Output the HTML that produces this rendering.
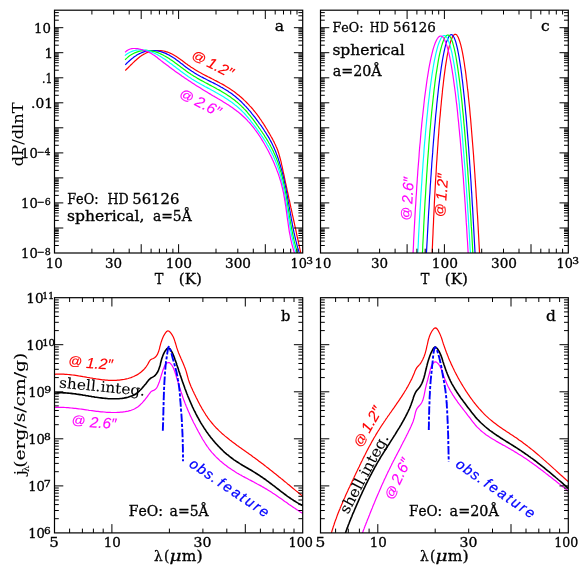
<!DOCTYPE html>
<html><head><meta charset="utf-8"><title>FeO emission</title>
<style>
html,body{margin:0;padding:0;background:#fff}
svg{display:block;will-change:transform}
.tk{stroke:#000;stroke-width:1;fill:none}
.fr{stroke:#000;stroke-width:1.2;fill:none}
text{font-kerning:none}
</style></head><body>
<svg width="581" height="581" viewBox="0 0 581 581">
<rect width="581" height="581" fill="#fff"/>
<defs>
<clipPath id="clipa"><rect x="54.5" y="10.2" width="248.2" height="242.8"/></clipPath>
<clipPath id="clipc"><rect x="320.5" y="10.2" width="247.8" height="242.8"/></clipPath>
<clipPath id="clipb"><rect x="54.5" y="297.7" width="248.2" height="235.2"/></clipPath>
<clipPath id="clipd"><rect x="320.5" y="297.7" width="247.8" height="235.2"/></clipPath>
</defs>
<path d="M125.2 70.5L126.3 69.5L127.3 68.5L128.4 67.5L129.4 66.4L130.5 65.3L131.6 64.3L132.7 63.2L133.8 62.1L134.9 61L136.1 60L137.2 59L138.4 58L139.6 57L140.9 56.1L142.1 55.2L143.4 54.4L144.8 53.7L146.1 53L147.5 52.4L148.9 51.9L150.4 51.5L151.8 51.1L153.3 50.9L154.8 50.7L156.3 50.5L157.8 50.5L159.3 50.5L160.7 50.6L162.2 50.8L163.7 51L165.1 51.4L166.5 51.8L167.9 52.2L169.3 52.8L170.6 53.4L172 54L173.3 54.7L174.6 55.5L175.9 56.2L177.1 57.1L178.4 57.9L179.6 58.8L180.9 59.7L182.1 60.6L183.3 61.5L184.6 62.5L185.8 63.4L187.1 64.3L188.3 65.2L189.6 66.1L190.8 67L192.1 67.8L193.4 68.6L194.7 69.4L196 70.2L197.3 71L198.6 71.8L200 72.5L201.3 73.2L202.6 74L204 74.7L205.3 75.4L206.7 76.1L208 76.8L209.3 77.4L210.7 78.1L212 78.8L213.4 79.5L214.7 80.2L216.1 80.9L217.4 81.6L218.7 82.3L220 83L221.4 83.7L222.7 84.4L224 85.1L225.3 85.9L226.6 86.7L227.8 87.4L229.1 88.2L230.3 89.1L231.6 89.9L232.8 90.8L234 91.6L235.2 92.5L236.4 93.5L237.6 94.4L238.8 95.3L239.9 96.3L241.1 97.3L242.2 98.3L243.3 99.3L244.4 100.4L245.5 101.4L246.6 102.5L247.7 103.6L248.7 104.7L249.7 105.8L250.8 106.9L251.8 108L252.8 109.2L253.7 110.3L254.7 111.5L255.6 112.7L256.6 113.9L257.5 115.1L258.4 116.3L259.3 117.6L260.1 118.8L261 120L261.8 121.3L262.7 122.6L263.5 123.8L264.3 125.1L265.1 126.4L265.9 127.7L266.7 129L267.5 130.3L268.2 131.6L269 132.9L269.8 134.2L270.5 135.5L271.2 136.8L272 138.1L272.7 139.4L273.4 140.8L274.1 142.1L274.7 143.4L275.4 144.8L276 146.2L276.6 147.5L277.2 148.9L277.7 150.3L278.2 151.7L278.7 153.2L279.1 154.6L279.5 156L279.9 157.5L280.3 159L280.7 160.4L281.1 161.9L281.4 163.4L281.7 164.9L282.1 166.3L282.4 167.8L282.7 169.3L283 170.8L283.3 172.3L283.7 173.8L284 175.2L284.3 176.7L284.6 178.2L284.9 179.7L285.2 181.2L285.5 182.6L285.9 184.1L286.2 185.6L286.5 187.1L286.8 188.5L287.1 190L287.4 191.5L287.8 193L288.1 194.4L288.4 195.9L288.7 197.4L289 198.9L289.4 200.3L289.7 201.8L290 203.3L290.3 204.8L290.6 206.2L290.9 207.7L291.3 209.2L291.6 210.7L291.9 212.2L292.2 213.6L292.5 215.1L292.9 216.6L293.2 218.1L293.5 219.5L293.8 221L294.2 222.5L294.5 224L294.8 225.5L295.1 226.9L295.4 228.4L295.8 229.9L296.1 231.4L296.4 232.8L296.7 234.3L297 235.8L297.4 237.3L297.7 238.8L298 240.2L298.3 241.7L298.6 243.2L299 244.7L299.3 246.1L299.6 247.6L299.9 249.1L300.2 250.6L300.6 252L300.9 253.5L301.2 255" fill="none" stroke="#ff0000" stroke-width="1.2" stroke-linejoin="round" clip-path="url(#clipa)"/>
<path d="M125.3 64.9L126.2 63.8L127.3 62.8L128.4 61.7L129.5 60.7L130.6 59.7L131.8 58.7L133.1 57.8L134.3 56.8L135.6 56L136.9 55.1L138.3 54.3L139.6 53.6L141 53L142.4 52.4L143.8 51.9L145.3 51.4L146.7 51.1L148.2 50.8L149.7 50.6L151.2 50.5L152.6 50.5L154.1 50.6L155.6 50.7L157.1 50.9L158.6 51.2L160 51.5L161.5 51.9L162.9 52.4L164.3 52.9L165.7 53.4L167.1 54.1L168.4 54.7L169.7 55.4L171 56.2L172.3 57L173.5 57.8L174.8 58.6L176 59.5L177.3 60.4L178.5 61.3L179.7 62.2L180.9 63.2L182.1 64.1L183.3 65L184.5 66L185.7 66.9L186.9 67.8L188.2 68.7L189.4 69.6L190.7 70.5L191.9 71.3L193.2 72.1L194.5 72.9L195.8 73.7L197.1 74.5L198.4 75.2L199.8 76L201.1 76.7L202.5 77.4L203.8 78.1L205.2 78.8L206.5 79.5L207.9 80.2L209.2 80.9L210.6 81.6L212 82.3L213.3 82.9L214.7 83.6L216 84.3L217.4 85L218.7 85.7L220 86.4L221.3 87.2L222.7 87.9L224 88.7L225.2 89.4L226.5 90.2L227.8 91L229 91.9L230.3 92.7L231.5 93.6L232.7 94.5L233.9 95.4L235 96.3L236.2 97.3L237.3 98.3L238.5 99.2L239.6 100.3L240.7 101.3L241.8 102.3L242.8 103.4L243.9 104.5L244.9 105.6L246 106.7L247 107.8L248 108.9L249 110.1L250 111.2L251 112.4L251.9 113.6L252.9 114.8L253.8 116L254.8 117.2L255.7 118.4L256.6 119.6L257.5 120.8L258.4 122L259.3 123.3L260.2 124.5L261.1 125.7L262 127L262.8 128.2L263.7 129.5L264.5 130.8L265.3 132L266.1 133.3L266.9 134.6L267.7 135.8L268.5 137.1L269.3 138.4L270 139.8L270.7 141.1L271.4 142.4L272.1 143.8L272.7 145.1L273.4 146.5L274 147.8L274.6 149.2L275.2 150.6L275.8 152L276.3 153.4L276.8 154.8L277.4 156.3L277.9 157.7L278.4 159.1L278.8 160.5L279.3 162L279.7 163.4L280.2 164.9L280.6 166.3L281 167.8L281.4 169.2L281.8 170.7L282.2 172.1L282.6 173.6L282.9 175L283.3 176.5L283.6 178L284 179.5L284.3 180.9L284.6 182.4L284.9 183.9L285.3 185.4L285.6 186.8L285.9 188.3L286.2 189.8L286.4 191.3L286.7 192.8L287 194.3L287.3 195.8L287.5 197.3L287.8 198.8L288.1 200.2L288.3 201.7L288.6 203.2L288.9 204.7L289.1 206.2L289.4 207.7L289.7 209.2L289.9 210.7L290.2 212.2L290.4 213.7L290.7 215.2L291 216.7L291.2 218.2L291.5 219.7L291.8 221.2L292.1 222.6L292.3 224.1L292.6 225.6L292.9 227.1L293.2 228.6L293.5 230.1L293.8 231.6L294.1 233L294.5 234.5L294.8 236L295.1 237.5L295.5 238.9L295.8 240.4L296.2 241.9L296.6 243.3L296.9 244.8L297.3 246.3L297.7 247.7L298.2 249.2L298.6 250.6L299 252.1L299.5 253.5L299.9 255" fill="none" stroke="#0000ff" stroke-width="1.2" stroke-linejoin="round" clip-path="url(#clipa)"/>
<path d="M125.1 59.8L126.2 58.6L127.4 57.6L128.6 56.5L129.9 55.6L131.2 54.8L132.5 54L133.9 53.3L135.3 52.6L136.7 52.1L138.1 51.6L139.6 51.2L141.1 50.9L142.5 50.6L144 50.5L145.5 50.4L146.9 50.4L148.4 50.5L149.9 50.6L151.3 50.9L152.7 51.2L154.2 51.5L155.6 51.9L157 52.4L158.4 52.9L159.8 53.5L161.1 54.1L162.5 54.8L163.8 55.5L165.2 56.2L166.5 57L167.8 57.8L169.1 58.6L170.3 59.4L171.6 60.2L172.8 61.1L174.1 62L175.3 62.9L176.5 63.8L177.7 64.7L178.9 65.6L180.2 66.5L181.4 67.4L182.6 68.3L183.8 69.2L185 70.1L186.2 71L187.5 71.9L188.7 72.8L189.9 73.6L191.2 74.5L192.5 75.3L193.7 76.1L195 76.8L196.3 77.6L197.6 78.4L198.9 79.1L200.2 79.9L201.6 80.6L202.9 81.3L204.2 82L205.5 82.7L206.9 83.4L208.2 84.1L209.5 84.9L210.9 85.6L212.2 86.3L213.6 87L214.9 87.7L216.2 88.4L217.5 89.2L218.9 89.9L220.2 90.6L221.5 91.4L222.8 92.2L224.1 93L225.4 93.8L226.6 94.6L227.9 95.4L229.2 96.3L230.4 97.1L231.6 98L232.9 98.9L234.1 99.8L235.3 100.7L236.4 101.7L237.6 102.6L238.7 103.6L239.8 104.6L240.9 105.6L242 106.7L243.1 107.7L244.1 108.8L245.2 109.9L246.2 111L247.2 112.2L248.1 113.3L249.1 114.5L250.1 115.6L251 116.8L251.9 118L252.9 119.2L253.8 120.4L254.7 121.6L255.6 122.8L256.5 124.1L257.3 125.3L258.2 126.5L259.1 127.8L260 129L260.8 130.3L261.7 131.5L262.5 132.8L263.4 134L264.2 135.3L265 136.6L265.8 137.8L266.6 139.1L267.4 140.4L268.2 141.7L268.9 143L269.7 144.3L270.4 145.6L271.1 147L271.8 148.3L272.5 149.7L273.2 151L273.8 152.4L274.4 153.7L275 155.1L275.6 156.5L276.2 157.9L276.7 159.3L277.3 160.7L277.8 162.1L278.3 163.6L278.8 165L279.2 166.4L279.7 167.8L280.1 169.3L280.5 170.7L281 172.2L281.4 173.6L281.7 175.1L282.1 176.5L282.5 178L282.8 179.4L283.2 180.9L283.5 182.4L283.8 183.9L284.1 185.3L284.4 186.8L284.7 188.3L285 189.8L285.3 191.3L285.6 192.7L285.9 194.2L286.1 195.7L286.4 197.2L286.6 198.7L286.9 200.2L287.2 201.7L287.4 203.2L287.6 204.7L287.9 206.2L288.1 207.7L288.4 209.2L288.6 210.7L288.8 212.2L289.1 213.7L289.3 215.2L289.6 216.7L289.8 218.2L290.1 219.7L290.3 221.2L290.6 222.7L290.8 224.2L291.1 225.7L291.4 227.1L291.6 228.6L291.9 230.1L292.2 231.6L292.5 233.1L292.8 234.6L293.1 236L293.4 237.5L293.8 239L294.1 240.5L294.4 241.9L294.8 243.4L295.2 244.8L295.6 246.3L295.9 247.8L296.4 249.2L296.8 250.6L297.2 252.1L297.7 253.5L298.1 255" fill="none" stroke="#00ff00" stroke-width="1.2" stroke-linejoin="round" clip-path="url(#clipa)"/>
<path d="M124.9 55.6L126.3 54.5L127.7 53.6L129.1 52.8L130.5 52L132 51.4L133.4 50.9L134.9 50.5L136.3 50.2L137.8 50L139.2 49.9L140.7 49.8L142.2 49.9L143.6 50L145 50.2L146.5 50.4L147.9 50.8L149.3 51.2L150.7 51.6L152.1 52.2L153.4 52.7L154.8 53.4L156.1 54L157.5 54.7L158.8 55.5L160.1 56.2L161.4 57.1L162.7 57.9L164 58.7L165.3 59.6L166.5 60.5L167.8 61.4L169 62.3L170.2 63.2L171.5 64.1L172.7 65L173.9 65.9L175.1 66.8L176.3 67.8L177.5 68.7L178.7 69.6L179.9 70.5L181.1 71.4L182.3 72.3L183.5 73.2L184.7 74.1L186 75L187.2 75.8L188.4 76.7L189.7 77.5L190.9 78.3L192.2 79.2L193.5 79.9L194.8 80.7L196.1 81.5L197.4 82.3L198.7 83L200 83.8L201.3 84.5L202.7 85.2L204 85.9L205.3 86.7L206.7 87.4L208 88.1L209.3 88.8L210.7 89.6L212 90.3L213.4 91L214.7 91.7L216 92.5L217.3 93.2L218.7 94L220 94.7L221.3 95.5L222.6 96.3L223.9 97.1L225.2 97.9L226.5 98.7L227.7 99.5L229 100.4L230.2 101.2L231.4 102.1L232.7 103L233.9 103.9L235 104.9L236.2 105.8L237.4 106.8L238.5 107.7L239.6 108.7L240.7 109.8L241.8 110.8L242.8 111.9L243.9 112.9L244.9 114L245.9 115.1L246.9 116.3L247.8 117.4L248.8 118.6L249.8 119.7L250.7 120.9L251.6 122.1L252.6 123.3L253.5 124.5L254.4 125.7L255.3 126.9L256.2 128.1L257.1 129.4L258 130.6L258.9 131.8L259.8 133.1L260.7 134.3L261.5 135.6L262.4 136.9L263.2 138.1L264 139.4L264.9 140.7L265.7 142L266.5 143.3L267.2 144.6L268 145.9L268.8 147.2L269.5 148.6L270.2 149.9L270.9 151.2L271.6 152.6L272.3 153.9L273 155.3L273.6 156.6L274.2 158L274.8 159.4L275.4 160.8L276 162.2L276.5 163.6L277.1 165L277.6 166.4L278.1 167.8L278.6 169.2L279 170.6L279.5 172.1L279.9 173.5L280.3 175L280.7 176.4L281.1 177.9L281.5 179.3L281.9 180.8L282.2 182.2L282.5 183.7L282.9 185.2L283.2 186.7L283.5 188.1L283.8 189.6L284.1 191.1L284.4 192.6L284.7 194.1L285 195.6L285.2 197.1L285.5 198.6L285.7 200.1L286 201.6L286.2 203.1L286.5 204.6L286.7 206.1L287 207.6L287.2 209.1L287.4 210.6L287.7 212.1L287.9 213.6L288.2 215.1L288.4 216.6L288.6 218.1L288.9 219.6L289.1 221.1L289.4 222.6L289.6 224.1L289.9 225.6L290.1 227.1L290.4 228.6L290.7 230.1L291 231.6L291.2 233.1L291.5 234.6L291.8 236L292.2 237.5L292.5 239L292.8 240.5L293.1 241.9L293.5 243.4L293.9 244.9L294.2 246.3L294.6 247.8L295 249.2L295.5 250.7L295.9 252.1L296.3 253.5L296.8 255" fill="none" stroke="#00ffff" stroke-width="1.2" stroke-linejoin="round" clip-path="url(#clipa)"/>
<path d="M125.1 52.2L126.4 51.1L127.6 50.2L129 49.5L130.3 49L131.8 48.6L133.2 48.5L134.7 48.5L136.2 48.6L137.7 48.7L139.2 49L140.7 49.4L142.2 49.7L143.6 50.2L145.1 50.7L146.5 51.2L148 51.8L149.3 52.4L150.7 53.1L152 53.9L153.2 54.7L154.5 55.5L155.7 56.4L156.9 57.3L158 58.3L159.2 59.2L160.4 60.1L161.6 61.1L162.8 62L164 62.9L165.2 63.8L166.4 64.7L167.6 65.6L168.8 66.5L170 67.4L171.2 68.3L172.4 69.2L173.6 70.1L174.8 71L176.1 71.9L177.3 72.7L178.5 73.6L179.8 74.5L181 75.3L182.2 76.2L183.5 77.1L184.7 77.9L186 78.8L187.2 79.6L188.5 80.4L189.8 81.3L191 82.1L192.3 82.9L193.6 83.8L194.8 84.6L196.1 85.4L197.4 86.2L198.7 87L200 87.8L201.2 88.6L202.5 89.4L203.8 90.2L205.1 91L206.4 91.8L207.7 92.6L209 93.4L210.3 94.1L211.6 94.9L212.9 95.7L214.3 96.4L215.6 97.2L216.9 98L218.2 98.8L219.5 99.5L220.8 100.3L222.1 101.1L223.4 101.9L224.7 102.7L226 103.5L227.2 104.3L228.5 105.1L229.8 105.9L231 106.8L232.2 107.6L233.5 108.5L234.7 109.4L235.9 110.3L237.1 111.2L238.3 112.1L239.4 113L240.6 114L241.7 115L242.8 116L243.9 117L245 118L246.1 119.1L247.1 120.2L248.1 121.3L249.2 122.4L250.2 123.5L251.1 124.7L252.1 125.9L253.1 127L254 128.2L254.9 129.5L255.8 130.7L256.7 131.9L257.6 133.2L258.5 134.4L259.3 135.7L260.2 137L261 138.3L261.8 139.6L262.6 140.9L263.4 142.2L264.2 143.5L264.9 144.8L265.7 146.2L266.4 147.5L267.1 148.8L267.9 150.2L268.6 151.5L269.3 152.9L269.9 154.2L270.6 155.6L271.3 157L271.9 158.3L272.5 159.7L273.2 161.1L273.8 162.4L274.4 163.8L274.9 165.2L275.5 166.6L276.1 168L276.6 169.4L277.1 170.8L277.7 172.2L278.2 173.6L278.7 175L279.1 176.4L279.6 177.9L280 179.3L280.5 180.7L280.9 182.2L281.3 183.6L281.7 185.1L282 186.5L282.4 188L282.7 189.4L283 190.9L283.4 192.4L283.7 193.9L283.9 195.4L284.2 196.9L284.5 198.3L284.7 199.8L285 201.3L285.2 202.8L285.4 204.4L285.7 205.9L285.9 207.4L286.1 208.9L286.3 210.4L286.5 211.9L286.7 213.4L286.9 214.9L287.1 216.5L287.3 218L287.5 219.5L287.8 221L288 222.5L288.2 224L288.4 225.5L288.6 227L288.9 228.6L289.1 230.1L289.3 231.6L289.6 233.1L289.9 234.5L290.2 236L290.4 237.5L290.7 239L291.1 240.5L291.4 242L291.7 243.4L292.1 244.9L292.5 246.3L292.9 247.8L293.3 249.2L293.7 250.7L294.2 252.1L294.6 253.5L295.1 254.9" fill="none" stroke="#ff00ff" stroke-width="1.2" stroke-linejoin="round" clip-path="url(#clipa)"/>
<path d="M432 256L432.2 252.3L432.3 248.6L432.5 244.9L432.6 241.2L432.8 237.5L433 233.8L433.1 230.1L433.3 226.3L433.5 222.6L433.6 218.9L433.8 215.2L434 211.5L434.2 207.8L434.3 204.1L434.5 200.4L434.7 196.7L434.9 193L435.1 189.3L435.3 185.6L435.5 181.9L435.7 178.2L436 174.5L436.2 170.7L436.4 167L436.6 163.3L436.9 159.6L437.1 155.9L437.4 152.2L437.6 148.5L437.9 144.8L438.1 141.1L438.4 137.4L438.7 133.7L438.9 130L439.2 126.3L439.5 122.6L439.8 118.8L440.2 115.1L440.5 111.4L440.8 107.7L441.2 104L441.5 100.3L441.9 96.6L442.3 92.9L442.6 89.2L443.1 85.5L443.5 81.8L443.9 78.1L444.4 74.4L444.9 70.7L445.4 67L446 63.2L446.6 59.5L447.2 55.8L448 52.1L448.8 48.4L449.7 44.7L450.8 41L452.3 37.3L452.5 36.8L452.8 36.3L453.1 35.9L453.4 35.5L453.6 35.2L453.9 34.9L454.2 34.7L454.5 34.5L454.7 34.4L455 34.3L455.3 34.3L455.6 34.3L455.8 34.4L456.1 34.5L456.4 34.7L456.6 34.9L456.9 35.2L457.1 35.5L457.4 35.9L457.7 36.3L457.9 36.8L458.2 37.3L459.6 41L460.7 44.7L461.6 48.4L462.4 52.1L463.1 55.8L463.7 59.5L464.3 63.2L464.8 67L465.4 70.7L465.9 74.4L466.3 78.1L466.8 81.8L467.2 85.5L467.6 89.2L468.1 92.9L468.4 96.6L468.8 100.3L469.2 104L469.6 107.7L469.9 111.4L470.2 115.1L470.6 118.8L470.9 122.6L471.2 126.3L471.5 130L471.8 133.7L472.1 137.4L472.4 141.1L472.7 144.8L473 148.5L473.3 152.2L473.6 155.9L473.8 159.6L474.1 163.3L474.4 167L474.6 170.7L474.9 174.5L475.1 178.2L475.4 181.9L475.6 185.6L475.9 189.3L476.1 193L476.3 196.7L476.6 200.4L476.8 204.1L477 207.8L477.2 211.5L477.5 215.2L477.7 218.9L477.9 222.6L478.1 226.3L478.3 230.1L478.5 233.8L478.7 237.5L478.9 241.2L479.1 244.9L479.3 248.6L479.5 252.3L479.7 256" fill="none" stroke="#ff0000" stroke-width="1.2" stroke-linejoin="round" clip-path="url(#clipc)"/>
<path d="M426.3 256L426.5 252.3L426.7 248.6L426.9 244.9L427.1 241.2L427.3 237.5L427.5 233.8L427.7 230.1L427.9 226.4L428.1 222.7L428.3 219L428.5 215.3L428.7 211.6L429 207.9L429.2 204.2L429.4 200.5L429.6 196.8L429.9 193.1L430.1 189.4L430.3 185.7L430.6 182L430.8 178.3L431.1 174.6L431.3 170.9L431.6 167.2L431.8 163.5L432.1 159.8L432.4 156.1L432.7 152.4L432.9 148.7L433.2 145L433.5 141.3L433.8 137.6L434.1 133.9L434.4 130.2L434.7 126.5L435.1 122.8L435.4 119.1L435.7 115.4L436.1 111.7L436.5 108L436.8 104.3L437.2 100.6L437.6 96.9L438 93.2L438.4 89.5L438.8 85.8L439.3 82.1L439.8 78.4L440.3 74.7L440.8 71L441.3 67.3L441.9 63.6L442.5 59.9L443.2 56.2L443.9 52.5L444.7 48.8L445.6 45.1L446.7 41.4L448.3 37.7L448.5 37.2L448.8 36.7L449.1 36.3L449.4 35.9L449.6 35.6L449.9 35.3L450.2 35.1L450.5 34.9L450.7 34.8L451 34.7L451.3 34.7L451.6 34.7L451.8 34.8L452.1 34.9L452.3 35.1L452.6 35.3L452.9 35.6L453.1 35.9L453.4 36.3L453.6 36.7L453.9 37.2L454.2 37.7L455.6 41.4L456.6 45.1L457.5 48.8L458.2 52.5L458.9 56.2L459.5 59.9L460.1 63.6L460.7 67.3L461.2 71L461.7 74.7L462.1 78.4L462.6 82.1L463 85.8L463.4 89.5L463.8 93.2L464.2 96.9L464.6 100.6L464.9 104.3L465.3 108L465.6 111.7L466 115.4L466.3 119.1L466.6 122.8L466.9 126.5L467.2 130.2L467.5 133.9L467.8 137.6L468.1 141.3L468.4 145L468.7 148.7L468.9 152.4L469.2 156.1L469.5 159.8L469.7 163.5L470 167.2L470.2 170.9L470.5 174.6L470.7 178.3L471 182L471.2 185.7L471.4 189.4L471.7 193.1L471.9 196.8L472.1 200.5L472.3 204.2L472.6 207.9L472.8 211.6L473 215.3L473.2 219L473.4 222.7L473.6 226.4L473.8 230.1L474 233.8L474.2 237.5L474.4 241.2L474.6 244.9L474.8 248.6L475 252.3L475.2 256" fill="none" stroke="#0000ff" stroke-width="1.2" stroke-linejoin="round" clip-path="url(#clipc)"/>
<path d="M422.3 256L422.5 252.3L422.7 248.6L422.8 244.9L423 241.2L423.2 237.5L423.4 233.8L423.6 230.1L423.7 226.4L423.9 222.7L424.1 219.1L424.3 215.4L424.5 211.7L424.7 208L424.9 204.3L425.1 200.6L425.4 196.9L425.6 193.2L425.8 189.5L426 185.8L426.3 182.1L426.5 178.4L426.7 174.7L427 171L427.2 167.3L427.5 163.6L427.7 159.9L428 156.2L428.3 152.5L428.6 148.8L428.8 145.2L429.1 141.5L429.4 137.8L429.7 134.1L430 130.4L430.4 126.7L430.7 123L431 119.3L431.4 115.6L431.7 111.9L432.1 108.2L432.5 104.5L432.9 100.8L433.3 97.1L433.7 93.4L434.1 89.7L434.6 86L435 82.3L435.5 78.6L436 74.9L436.6 71.3L437.2 67.6L437.8 63.9L438.4 60.2L439.1 56.5L439.9 52.8L440.8 49.1L441.8 45.4L443 41.7L444.6 38L444.9 37.5L445.2 37L445.5 36.6L445.8 36.2L446.1 35.9L446.4 35.6L446.7 35.4L447 35.2L447.3 35.1L447.6 35L447.9 35L448.2 35L448.4 35.1L448.7 35.2L449 35.4L449.3 35.6L449.5 35.9L449.8 36.2L450.1 36.6L450.3 37L450.6 37.5L450.9 38L452.4 41.7L453.4 45.4L454.4 49.1L455.2 52.8L455.9 56.5L456.5 60.2L457.1 63.9L457.7 67.6L458.2 71.3L458.7 74.9L459.2 78.6L459.7 82.3L460.1 86L460.6 89.7L461 93.4L461.4 97.1L461.8 100.8L462.2 104.5L462.5 108.2L462.9 111.9L463.3 115.6L463.6 119.3L463.9 123L464.3 126.7L464.6 130.4L464.9 134.1L465.2 137.8L465.5 141.5L465.8 145.2L466.1 148.8L466.4 152.5L466.7 156.2L466.9 159.9L467.2 163.6L467.5 167.3L467.8 171L468 174.7L468.3 178.4L468.5 182.1L468.8 185.8L469 189.5L469.3 193.2L469.5 196.9L469.8 200.6L470 204.3L470.2 208L470.4 211.7L470.7 215.4L470.9 219.1L471.1 222.7L471.3 226.4L471.6 230.1L471.8 233.8L472 237.5L472.2 241.2L472.4 244.9L472.6 248.6L472.8 252.3L473 256" fill="none" stroke="#00ff00" stroke-width="1.2" stroke-linejoin="round" clip-path="url(#clipc)"/>
<path d="M417.6 256L417.8 252.3L418 248.6L418.2 244.9L418.4 241.3L418.5 237.6L418.7 233.9L418.9 230.2L419.1 226.5L419.3 222.8L419.5 219.1L419.7 215.4L419.9 211.8L420.2 208.1L420.4 204.4L420.6 200.7L420.8 197L421 193.3L421.3 189.6L421.5 186L421.8 182.3L422 178.6L422.2 174.9L422.5 171.2L422.8 167.5L423 163.8L423.3 160.2L423.6 156.5L423.9 152.8L424.1 149.1L424.4 145.4L424.7 141.7L425.1 138L425.4 134.3L425.7 130.7L426 127L426.4 123.3L426.7 119.6L427.1 115.9L427.5 112.2L427.8 108.5L428.2 104.9L428.6 101.2L429.1 97.5L429.5 93.8L429.9 90.1L430.4 86.4L430.9 82.7L431.4 79.1L431.9 75.4L432.5 71.7L433.1 68L433.7 64.3L434.4 60.6L435.2 56.9L436 53.2L436.9 49.6L437.9 45.9L439.2 42.2L440.9 38.5L441.2 38L441.5 37.5L441.8 37.1L442.1 36.7L442.4 36.4L442.7 36.1L443 35.9L443.4 35.7L443.7 35.6L444 35.5L444.3 35.5L444.6 35.5L444.9 35.6L445.2 35.7L445.4 35.9L445.7 36.1L446 36.4L446.3 36.7L446.6 37.1L446.9 37.5L447.2 38L447.5 38.5L449 42.2L450.2 45.9L451.1 49.6L452 53.2L452.7 56.9L453.4 60.6L454.1 64.3L454.7 68L455.2 71.7L455.8 75.4L456.3 79.1L456.8 82.7L457.2 86.4L457.7 90.1L458.1 93.8L458.5 97.5L459 101.2L459.4 104.9L459.7 108.5L460.1 112.2L460.5 115.9L460.8 119.6L461.2 123.3L461.5 127L461.9 130.7L462.2 134.3L462.5 138L462.8 141.7L463.1 145.4L463.4 149.1L463.7 152.8L464 156.5L464.3 160.2L464.6 163.8L464.9 167.5L465.2 171.2L465.4 174.9L465.7 178.6L466 182.3L466.2 186L466.5 189.6L466.7 193.3L467 197L467.2 200.7L467.5 204.4L467.7 208.1L467.9 211.8L468.2 215.4L468.4 219.1L468.6 222.8L468.8 226.5L469.1 230.2L469.3 233.9L469.5 237.6L469.7 241.3L469.9 244.9L470.1 248.6L470.4 252.3L470.6 256" fill="none" stroke="#00ffff" stroke-width="1.2" stroke-linejoin="round" clip-path="url(#clipc)"/>
<path d="M412.9 256L413.1 252.3L413.3 248.6L413.5 245L413.6 241.3L413.8 237.6L414 233.9L414.2 230.3L414.4 226.6L414.6 222.9L414.8 219.2L415 215.5L415.2 211.9L415.4 208.2L415.7 204.5L415.9 200.8L416.1 197.2L416.4 193.5L416.6 189.8L416.8 186.1L417.1 182.4L417.3 178.8L417.6 175.1L417.8 171.4L418.1 167.7L418.4 164.1L418.7 160.4L419 156.7L419.2 153L419.5 149.3L419.8 145.7L420.2 142L420.5 138.3L420.8 134.6L421.1 130.9L421.5 127.3L421.8 123.6L422.2 119.9L422.6 116.2L423 112.6L423.4 108.9L423.8 105.2L424.2 101.5L424.6 97.8L425.1 94.2L425.6 90.5L426.1 86.8L426.6 83.1L427.1 79.5L427.7 75.8L428.3 72.1L428.9 68.4L429.6 64.7L430.3 61.1L431.1 57.4L432 53.7L432.9 50L434 46.4L435.3 42.7L437.1 39L437.5 38.5L437.8 38L438.1 37.6L438.5 37.2L438.8 36.9L439.1 36.6L439.5 36.4L439.8 36.2L440.1 36.1L440.5 36L440.8 36L441.1 36L441.4 36.1L441.7 36.2L442 36.4L442.3 36.6L442.6 36.9L442.9 37.2L443.3 37.6L443.6 38L443.9 38.5L444.2 39L445.8 42.7L447.1 46.4L448.1 50L449 53.7L449.8 57.4L450.5 61.1L451.2 64.7L451.8 68.4L452.4 72.1L453 75.8L453.5 79.5L454 83.1L454.5 86.8L455 90.5L455.5 94.2L455.9 97.8L456.3 101.5L456.8 105.2L457.2 108.9L457.6 112.6L457.9 116.2L458.3 119.9L458.7 123.6L459 127.3L459.4 130.9L459.7 134.6L460.1 138.3L460.4 142L460.7 145.7L461 149.3L461.3 153L461.6 156.7L461.9 160.4L462.2 164.1L462.5 167.7L462.8 171.4L463.1 175.1L463.4 178.8L463.6 182.4L463.9 186.1L464.1 189.8L464.4 193.5L464.7 197.2L464.9 200.8L465.2 204.5L465.4 208.2L465.6 211.9L465.9 215.5L466.1 219.2L466.3 222.9L466.6 226.6L466.8 230.3L467 233.9L467.2 237.6L467.5 241.3L467.7 245L467.9 248.6L468.1 252.3L468.3 256" fill="none" stroke="#ff00ff" stroke-width="1.2" stroke-linejoin="round" clip-path="url(#clipc)"/>
<path d="M54.5 374.3L56 374.2L57.5 374.2L59 374.1L60.5 374.1L62.1 374.1L63.6 374.2L65.1 374.3L66.6 374.4L68.1 374.5L69.6 374.6L71.1 374.8L72.6 375L74.1 375.2L75.6 375.4L77.1 375.6L78.6 375.9L80.1 376.1L81.6 376.4L83.1 376.7L84.6 376.9L86.1 377.2L87.6 377.5L89.1 377.7L90.6 378L92.1 378.2L93.6 378.5L95.1 378.7L96.6 379L98.1 379.2L99.6 379.4L101.1 379.6L102.6 379.8L104.1 379.9L105.6 380.1L107.1 380.2L108.6 380.3L110.1 380.3L111.6 380.4L113.1 380.4L114.6 380.4L116.1 380.3L117.6 380.2L119.1 380.1L120.7 379.9L122.2 379.7L123.7 379.5L125.2 379.2L126.6 378.8L128.1 378.5L129.6 378L131 377.6L132.4 377L133.8 376.5L135.1 375.8L136.5 375.1L137.8 374.4L139 373.6L140.2 372.7L141.4 371.8L142.5 370.8L143.6 369.8L144.6 368.7L145.6 367.5L146.5 366.3L147.3 365L148.1 363.6L148.9 362.1L149.7 360.8L150.6 359.7L151.9 359L153.3 358.5L154.6 357.8L155.7 356.8L156.6 355.7L157.4 354.4L158 353L158.6 351.6L159 350.1L159.5 348.6L159.8 347L160.2 345.6L160.6 344.1L161 342.6L161.5 341.2L162 339.8L162.5 338.4L163.1 337L163.8 335.6L164.6 334.3L165.5 332.9L166.5 331.6L167.6 330.9L168.7 331L169.9 331.9L170.9 333.1L171.8 334.4L172.6 335.7L173.3 337.1L173.9 338.5L174.4 339.9L174.9 341.4L175.3 342.8L175.8 344.3L176.2 345.7L176.6 347.2L177.1 348.6L177.6 350.1L178.1 351.5L178.6 352.9L179.2 354.3L179.8 355.7L180.4 357.1L181 358.5L181.6 359.8L182.2 361.2L182.8 362.6L183.4 364L184 365.4L184.5 366.8L185.1 368.2L185.6 369.6L186.1 371.1L186.5 372.5L186.9 374L187.3 375.5L187.7 376.9L188.1 378.4L188.5 379.9L189 381.3L189.5 382.7L190 384.1L190.6 385.5L191.2 386.9L191.8 388.2L192.4 389.6L193 391L193.7 392.3L194.3 393.7L195 395L195.7 396.4L196.3 397.8L197 399.1L197.7 400.5L198.4 401.9L199.1 403.2L199.8 404.6L200.5 405.9L201.3 407.2L202 408.6L202.8 409.9L203.6 411.2L204.4 412.5L205.2 413.8L206 415.1L206.9 416.3L207.7 417.6L208.6 418.8L209.5 420L210.4 421.2L211.4 422.4L212.3 423.5L213.3 424.7L214.3 425.8L215.3 426.9L216.3 428L217.4 429L218.5 430.1L219.5 431.1L220.6 432.1L221.7 433.2L222.9 434.2L224 435.1L225.1 436.1L226.3 437.1L227.5 438L228.7 439L229.8 439.9L231 440.8L232.2 441.8L233.5 442.7L234.7 443.6L235.9 444.5L237.1 445.4L238.4 446.3L239.6 447.2L240.8 448L242.1 448.9L243.3 449.8L244.6 450.7L245.8 451.6L247 452.4L248.3 453.3L249.5 454.2L250.8 455.1L252 456L253.2 456.9L254.5 457.8L255.7 458.7L256.9 459.6L258.1 460.5L259.3 461.4L260.5 462.3L261.7 463.2L262.9 464.1L264.1 465L265.3 465.9L266.5 466.9L267.7 467.8L268.9 468.7L270.1 469.7L271.2 470.6L272.4 471.5L273.6 472.5L274.8 473.4L275.9 474.3L277.1 475.3L278.3 476.2L279.4 477.2L280.6 478.1L281.8 479.1L283 480L284.1 481L285.3 481.9L286.5 482.9L287.6 483.9L288.8 484.8L290 485.8L291.1 486.7L292.3 487.7L293.5 488.7L294.6 489.6L295.8 490.6L297 491.6L298.2 492.5L299.3 493.5L300.5 494.4L301.7 495.4L302.9 496.4" fill="none" stroke="#ff0000" stroke-width="1.2" stroke-linejoin="round" clip-path="url(#clipb)"/>
<path d="M54.5 407.5L56 407.4L57.5 407.4L59.1 407.3L60.6 407.4L62.1 407.4L63.6 407.4L65.1 407.5L66.6 407.6L68.1 407.7L69.6 407.8L71.1 408L72.6 408.1L74.1 408.3L75.6 408.4L77.1 408.6L78.6 408.8L80.1 409L81.6 409.2L83.1 409.4L84.6 409.6L86.1 409.8L87.6 410L89.1 410.3L90.6 410.5L92 410.7L93.5 410.9L95 411.1L96.5 411.3L98 411.4L99.5 411.6L101 411.8L102.5 411.9L104 412L105.5 412.2L107 412.3L108.5 412.3L110 412.4L111.5 412.5L113.1 412.5L114.6 412.5L116.1 412.5L117.6 412.4L119.1 412.3L120.7 412.2L122.2 412.1L123.7 411.9L125.2 411.7L126.7 411.4L128.2 411.1L129.7 410.7L131.1 410.3L132.5 409.8L133.8 409.2L135.2 408.5L136.4 407.7L137.7 406.9L138.9 406L140 405L141.1 403.9L142.2 402.8L143.2 401.7L144.2 400.5L145.2 399.3L146.1 398.1L147.1 396.9L148 395.6L148.8 394.5L149.7 393.3L150.6 392.2L151.6 391.2L152.9 390.6L154.3 390.1L155.5 389.2L156.5 388.1L157.3 386.8L157.9 385.4L158.5 384L159.1 382.6L159.6 381.1L160 379.7L160.5 378.2L160.9 376.8L161.3 375.4L161.7 374L162.2 372.6L162.6 371.2L163.1 369.8L163.7 368.3L164.3 366.7L165 365.2L165.9 363.9L167 363L168.3 362.5L169.5 362.7L170.6 363.6L171.6 364.8L172.5 366.2L173.2 367.6L173.8 369L174.3 370.4L174.8 371.9L175.3 373.3L175.7 374.7L176.2 376.1L176.6 377.6L177.1 379L177.5 380.5L178 381.9L178.4 383.4L178.8 384.8L179.3 386.2L179.7 387.7L180.2 389.1L180.7 390.6L181.1 392L181.6 393.5L182.1 394.9L182.5 396.3L183 397.8L183.5 399.2L184 400.6L184.6 402L185.1 403.4L185.7 404.8L186.2 406.2L186.8 407.6L187.4 409L188 410.4L188.6 411.8L189.2 413.1L189.8 414.5L190.4 415.9L191.1 417.2L191.7 418.6L192.4 419.9L193 421.3L193.7 422.7L194.4 424L195.1 425.3L195.8 426.7L196.5 428L197.2 429.4L197.9 430.7L198.6 432L199.4 433.4L200.1 434.7L200.8 436L201.6 437.3L202.3 438.7L203.1 440L203.9 441.2L204.7 442.5L205.5 443.8L206.4 445.1L207.2 446.3L208.1 447.5L209 448.8L209.9 450L210.8 451.1L211.8 452.3L212.8 453.4L213.8 454.5L214.8 455.6L215.8 456.7L216.9 457.8L218 458.8L219.1 459.8L220.2 460.9L221.4 461.8L222.5 462.8L223.7 463.8L224.9 464.7L226.1 465.6L227.3 466.5L228.5 467.4L229.8 468.3L231 469.1L232.3 469.9L233.6 470.8L234.8 471.6L236.1 472.4L237.4 473.2L238.7 473.9L240.1 474.7L241.4 475.4L242.7 476.2L244 476.9L245.3 477.6L246.7 478.3L248 479L249.3 479.7L250.7 480.4L252 481.1L253.3 481.8L254.7 482.6L256 483.3L257.3 484L258.7 484.7L260 485.4L261.3 486.1L262.6 486.9L263.9 487.6L265.2 488.4L266.5 489.1L267.8 489.9L269.1 490.7L270.4 491.5L271.6 492.3L272.9 493.2L274.2 494L275.4 494.8L276.7 495.7L277.9 496.6L279.1 497.4L280.4 498.3L281.6 499.1L282.9 500L284.1 500.9L285.3 501.8L286.6 502.6L287.8 503.5L289 504.4L290.3 505.2L291.5 506.1L292.8 507L294 507.8L295.3 508.6L296.5 509.5L297.8 510.3L299.1 511.1L300.3 511.9L301.6 512.7L302.9 513.5" fill="none" stroke="#ff00ff" stroke-width="1.2" stroke-linejoin="round" clip-path="url(#clipb)"/>
<path d="M54.5 393.1L56 393L57.5 392.9L59 392.9L60.5 392.8L62 392.8L63.5 392.9L65 392.9L66.5 393L68 393.1L69.5 393.3L71 393.4L72.5 393.6L74 393.8L75.5 393.9L77 394.2L78.5 394.4L80 394.6L81.5 394.8L83 395.1L84.5 395.3L86 395.6L87.5 395.8L89 396.1L90.4 396.3L91.9 396.6L93.4 396.8L94.9 397.1L96.4 397.3L97.9 397.5L99.4 397.7L100.9 397.9L102.4 398.1L103.9 398.3L105.4 398.4L106.9 398.5L108.4 398.7L109.9 398.7L111.4 398.8L112.9 398.8L114.4 398.8L115.9 398.8L117.4 398.7L118.9 398.7L120.4 398.5L121.9 398.4L123.4 398.2L124.9 397.9L126.4 397.6L127.9 397.3L129.3 396.8L130.7 396.3L132.1 395.8L133.4 395.2L134.7 394.5L136 393.7L137.2 392.8L138.4 391.8L139.5 390.8L140.6 389.7L141.7 388.6L142.7 387.4L143.7 386.3L144.7 385.1L145.7 383.9L146.6 382.7L147.5 381.5L148.4 380.4L149.4 379.3L150.5 378.3L151.8 377.6L153.1 376.9L154.3 376.1L155.4 375.1L156.3 374L157.1 372.8L157.9 371.5L158.5 370.1L159 368.7L159.5 367.2L160 365.7L160.4 364.2L160.7 362.7L161.1 361.2L161.5 359.7L161.9 358.3L162.4 356.9L162.9 355.5L163.5 354.1L164.1 352.8L164.9 351.4L165.7 350.2L166.7 348.9L167.8 348.1L168.9 348.2L170.1 349.2L171.1 350.7L172 352.2L172.7 353.6L173.3 355L173.9 356.4L174.4 357.8L174.9 359.2L175.4 360.5L175.9 361.9L176.4 363.3L176.8 364.8L177.3 366.2L177.8 367.6L178.3 369L178.7 370.4L179.2 371.9L179.7 373.3L180.1 374.7L180.6 376.1L181.1 377.6L181.6 379L182.1 380.4L182.6 381.9L183.1 383.3L183.6 384.7L184.1 386.1L184.6 387.5L185.1 389L185.7 390.4L186.2 391.8L186.7 393.2L187.3 394.6L187.8 396L188.4 397.4L189 398.8L189.6 400.2L190.2 401.6L190.8 403L191.4 404.4L192 405.7L192.6 407.1L193.3 408.5L193.9 409.8L194.6 411.2L195.3 412.5L195.9 413.9L196.6 415.2L197.3 416.5L198.1 417.9L198.8 419.2L199.5 420.5L200.3 421.8L201 423.1L201.8 424.4L202.6 425.6L203.4 426.9L204.2 428.2L205.1 429.4L205.9 430.7L206.7 431.9L207.6 433.1L208.5 434.4L209.4 435.6L210.3 436.8L211.2 437.9L212.2 439.1L213.1 440.3L214.1 441.4L215.1 442.6L216.1 443.7L217.1 444.8L218.1 445.9L219.2 447L220.3 448.1L221.3 449.2L222.4 450.2L223.5 451.3L224.6 452.3L225.8 453.3L226.9 454.3L228.1 455.2L229.2 456.2L230.4 457.1L231.6 458L232.8 458.9L234 459.8L235.3 460.7L236.5 461.5L237.8 462.3L239.1 463.1L240.3 463.9L241.6 464.7L242.9 465.5L244.2 466.2L245.5 467L246.8 467.7L248.1 468.5L249.4 469.3L250.7 470L252 470.8L253.3 471.6L254.6 472.4L255.9 473.2L257.2 474L258.4 474.8L259.7 475.6L260.9 476.5L262.2 477.3L263.4 478.2L264.7 479L265.9 479.9L267.1 480.8L268.3 481.7L269.5 482.6L270.7 483.5L271.9 484.4L273.1 485.3L274.3 486.2L275.5 487.2L276.7 488.1L277.9 489L279.1 489.9L280.3 490.9L281.5 491.8L282.7 492.7L283.9 493.6L285.1 494.5L286.3 495.4L287.5 496.3L288.7 497.1L290 498L291.2 498.8L292.5 499.7L293.7 500.5L295 501.3L296.3 502.1L297.6 502.9L298.9 503.6L300.2 504.3L301.5 505L302.9 505.7" fill="none" stroke="#000000" stroke-width="1.6" stroke-linejoin="round" clip-path="url(#clipb)"/>
<path d="M162.8 430.8L162.9 429.3L162.9 427.8L163 426.3L163 424.8L163.1 423.3L163.1 421.7L163.2 420.2L163.2 418.7L163.3 417.2L163.3 415.7L163.3 414.1L163.4 412.6L163.4 411.1L163.4 409.5L163.5 408L163.5 406.5L163.6 405L163.6 403.4L163.6 401.9L163.7 400.4L163.7 398.9L163.8 397.3L163.8 395.8L163.9 394.3L163.9 392.8L164 391.3L164 389.8L164.1 388.3L164.2 386.8L164.3 385.3L164.3 383.8L164.4 382.3L164.5 380.7L164.6 379.2L164.7 377.7L164.8 376.1L164.9 374.6L165 373L165.1 371.4L165.2 369.8L165.4 368.3L165.5 366.8L165.6 365.3L165.8 363.9L165.9 362.5L166.1 361.2L166.3 359.9L166.5 358.6L166.7 357.1L166.9 355.6L167.2 353.8L167.5 351.8L167.8 349.7L168.2 347.9L168.6 346.8L169.2 346.9L169.8 348.1L170.4 350L170.9 351.7L171.4 353.3L171.8 354.8L172.2 356.2L172.5 357.5L172.9 358.9L173.3 360.2L173.7 361.6L174.1 363.1L174.5 364.6L174.9 366.1L175.3 367.6L175.7 369.1L176.1 370.6L176.5 372L176.8 373.5L177.1 375L177.4 376.5L177.7 378L177.9 379.5L178.2 381L178.4 382.5L178.7 384L178.9 385.5L179.1 387L179.3 388.5L179.5 390L179.6 391.5L179.8 393L179.9 394.5L180 396L180.1 397.6L180.2 399.1L180.3 400.6L180.5 402.1L180.6 403.6L180.7 405.1L180.8 406.7L180.9 408.2L181 409.7L181.1 411.2L181.2 412.7L181.4 414.2L181.5 415.7L181.6 417.3L181.7 418.8L181.8 420.3L181.9 421.8L182 423.3L182 424.8L182.1 426.4L182.2 427.9L182.3 429.4L182.3 430.9L182.4 432.4L182.5 434L182.5 435.5L182.6 437L182.6 438.5L182.7 440L182.7 441.5L182.8 443.1L182.8 444.6L182.8 446.1L182.9 447.6L182.9 449.1L182.9 450.7L182.9 452.2L182.9 453.7L183 455.2L183 456.7L183 458.3L183 459.8L183 461.3" fill="none" stroke="#0000ff" stroke-width="1.9" stroke-linejoin="round" stroke-dasharray="8.5 1.8 3.2 1.8"/>
<path d="M330.5 536.1L330.9 534.6L331.4 533.1L331.8 531.7L332.2 530.2L332.7 528.8L333.1 527.3L333.6 525.9L334.1 524.5L334.5 523L335 521.6L335.5 520.2L336.1 518.8L336.6 517.4L337.1 515.9L337.6 514.5L338.2 513.1L338.7 511.7L339.3 510.3L339.9 508.9L340.4 507.5L341 506.2L341.6 504.8L342.2 503.4L342.8 502L343.4 500.6L344 499.2L344.6 497.9L345.2 496.5L345.8 495.1L346.4 493.7L347 492.4L347.7 491L348.3 489.6L348.9 488.3L349.6 486.9L350.2 485.5L350.8 484.2L351.5 482.8L352.1 481.4L352.8 480.1L353.4 478.7L354.1 477.3L354.7 476L355.4 474.6L356 473.2L356.6 471.9L357.3 470.5L357.9 469.2L358.6 467.8L359.3 466.4L359.9 465.1L360.6 463.7L361.2 462.3L361.9 461L362.6 459.6L363.2 458.3L363.9 456.9L364.6 455.6L365.3 454.2L365.9 452.9L366.6 451.5L367.3 450.2L368 448.9L368.7 447.5L369.4 446.2L370.2 444.9L370.9 443.6L371.6 442.2L372.3 440.9L373.1 439.6L373.8 438.3L374.6 437L375.4 435.7L376.1 434.4L376.9 433.1L377.7 431.8L378.5 430.5L379.3 429.3L380.1 428L380.9 426.7L381.7 425.5L382.6 424.2L383.4 423L384.2 421.7L385.1 420.5L385.9 419.2L386.8 418L387.6 416.7L388.5 415.5L389.4 414.3L390.2 413L391.1 411.8L392 410.5L392.8 409.3L393.7 408.1L394.6 406.8L395.4 405.6L396.3 404.4L397.1 403.1L398 401.9L398.9 400.6L399.7 399.4L400.5 398.1L401.4 396.9L402.2 395.6L403 394.3L403.8 393.1L404.6 391.8L405.4 390.5L406.2 389.2L406.9 387.9L407.7 386.6L408.4 385.3L409.1 384L409.8 382.6L410.5 381.3L411.2 379.9L411.9 378.6L412.5 377.2L413.1 375.8L413.7 374.4L414.3 373L414.8 371.6L415.4 370.2L416.1 368.9L416.8 367.6L417.8 366.5L418.8 365.4L419.8 364.3L420.7 363.1L421.5 361.8L422.2 360.5L422.9 359.2L423.5 357.8L424.1 356.4L424.6 355L425.1 353.6L425.5 352.1L425.9 350.6L426.3 349.1L426.6 347.7L426.9 346.2L427.3 344.7L427.6 343.3L427.9 341.9L428.2 340.5L428.6 339L429.1 337.6L429.5 336.2L430.1 334.8L430.8 333.3L431.6 331.8L432.5 330.3L433.5 329L434.5 328.1L435.6 327.9L436.6 328.4L437.5 329.5L438.4 330.9L439.2 332.5L439.9 333.9L440.5 335.4L441.1 336.9L441.6 338.3L442.1 339.7L442.5 341.2L443 342.6L443.4 344L443.9 345.4L444.4 346.8L444.9 348.2L445.4 349.6L445.9 351L446.4 352.4L447 353.8L447.5 355.2L448.1 356.6L448.6 358L449.2 359.4L449.8 360.8L450.4 362.1L451 363.5L451.6 364.9L452.3 366.2L452.9 367.6L453.6 369L454.2 370.3L454.9 371.7L455.6 373L456.3 374.4L457 375.7L457.7 377L458.4 378.4L459.2 379.7L459.9 381L460.7 382.3L461.4 383.6L462.2 384.9L463 386.2L463.8 387.5L464.6 388.8L465.4 390.1L466.2 391.4L467.1 392.6L467.9 393.9L468.8 395.1L469.6 396.4L470.5 397.6L471.4 398.8L472.3 400L473.2 401.3L474.1 402.5L475 403.6L476 404.8L476.9 406L477.9 407.1L478.9 408.3L479.9 409.4L480.9 410.5L481.9 411.6L482.9 412.7L484 413.8L485 414.8L486.1 415.9L487.2 416.9L488.3 417.9L489.4 418.9L490.6 419.9L491.7 420.8L492.9 421.8L494.1 422.7L495.3 423.6L496.5 424.5L497.7 425.4L498.9 426.3L500.2 427.2L501.4 428L502.7 428.9L503.9 429.7L505.2 430.6L506.4 431.4L507.7 432.2L509 433.1L510.2 433.9L511.5 434.8L512.8 435.6L514 436.4L515.3 437.3L516.6 438.1L517.8 439L519 439.9L520.3 440.7L521.5 441.6L522.7 442.5L523.9 443.4L525.1 444.3L526.3 445.2L527.5 446.1L528.7 447.1L529.9 448L531.1 448.9L532.3 449.9L533.4 450.8L534.6 451.8L535.7 452.7L536.9 453.7L538.1 454.7L539.2 455.6L540.3 456.6L541.5 457.6L542.6 458.6L543.7 459.6L544.9 460.6L546 461.6L547.1 462.6L548.3 463.6L549.4 464.6L550.5 465.6L551.6 466.6L552.7 467.6L553.8 468.6L555 469.6L556.1 470.7L557.2 471.7L558.3 472.7L559.4 473.7L560.5 474.7L561.7 475.7L562.8 476.7L563.9 477.8L565 478.8L566.1 479.8L567.3 480.8L568.4 481.8" fill="none" stroke="#ff0000" stroke-width="1.2" stroke-linejoin="round" clip-path="url(#clipd)"/>
<path d="M361.2 536L361.8 534.6L362.3 533.2L362.9 531.8L363.4 530.3L364 528.9L364.5 527.5L365 526.1L365.6 524.7L366.1 523.3L366.7 521.9L367.2 520.5L367.8 519.1L368.4 517.7L368.9 516.3L369.5 514.9L370 513.5L370.6 512.1L371.1 510.7L371.7 509.3L372.3 507.9L372.8 506.5L373.4 505.1L374 503.7L374.6 502.3L375.1 500.9L375.7 499.5L376.3 498.1L376.9 496.7L377.5 495.3L378.1 493.9L378.7 492.6L379.3 491.2L379.9 489.8L380.5 488.4L381.1 487L381.7 485.6L382.3 484.3L382.9 482.9L383.6 481.5L384.2 480.1L384.8 478.8L385.5 477.4L386.1 476L386.7 474.7L387.4 473.3L388 471.9L388.7 470.6L389.4 469.2L390 467.9L390.7 466.5L391.4 465.2L392 463.8L392.7 462.5L393.4 461.1L394.1 459.8L394.8 458.4L395.5 457.1L396.2 455.7L396.9 454.4L397.6 453L398.3 451.7L399 450.4L399.7 449L400.4 447.7L401 446.4L401.7 445L402.4 443.7L403.1 442.3L403.8 441L404.5 439.7L405.2 438.3L405.9 437L406.5 435.6L407.2 434.3L407.9 432.9L408.5 431.6L409.2 430.2L409.9 428.9L410.5 427.5L411.1 426.2L411.7 424.8L412.3 423.4L412.9 422L413.4 420.6L413.8 419.1L414.3 417.7L414.6 416.2L415 414.6L415.3 413.1L415.7 411.7L416.2 410.3L416.8 408.9L417.7 407.6L418.6 406.5L419.7 405.3L420.7 404.2L421.5 403L422.2 401.6L422.8 400.3L423.2 398.8L423.6 397.3L424 395.8L424.3 394.3L424.6 392.8L424.9 391.3L425.2 389.8L425.5 388.3L425.9 386.8L426.2 385.3L426.6 383.9L427 382.4L427.4 381L427.8 379.5L428.1 378.1L428.5 376.6L428.9 375.2L429.3 373.8L429.6 372.3L430 370.9L430.3 369.4L430.8 367.9L431.3 366.4L432.1 364.9L433 363.5L434.1 362.3L435.2 361.8L436.4 362.1L437.6 363.1L438.7 364.4L439.6 365.8L440.4 367.2L441 368.6L441.6 369.9L442.1 371.3L442.6 372.7L443 374.1L443.5 375.5L444 376.9L444.5 378.3L445.1 379.7L445.7 381.1L446.3 382.5L446.9 383.9L447.5 385.3L448.2 386.7L448.9 388L449.6 389.4L450.3 390.7L451.1 392L451.9 393.3L452.6 394.6L453.5 395.9L454.3 397.1L455.1 398.4L456 399.6L456.9 400.8L457.7 402.1L458.6 403.3L459.5 404.5L460.4 405.7L461.3 406.9L462.3 408.1L463.2 409.3L464.1 410.5L465 411.7L466 412.9L466.9 414.1L467.8 415.3L468.7 416.5L469.7 417.7L470.6 418.9L471.5 420.1L472.4 421.3L473.3 422.5L474.3 423.7L475.2 424.8L476.2 426L477.2 427.1L478.3 428.1L479.4 429.2L480.4 430.2L481.6 431.2L482.7 432.1L483.9 433.1L485.1 434L486.3 434.9L487.6 435.7L488.8 436.6L490.1 437.4L491.4 438.2L492.6 439L494 439.8L495.3 440.6L496.6 441.4L497.9 442.1L499.2 442.9L500.6 443.6L501.9 444.4L503.2 445.1L504.6 445.8L505.9 446.6L507.2 447.3L508.5 448.1L509.8 448.8L511.1 449.6L512.4 450.3L513.7 451.1L515 451.9L516.3 452.6L517.6 453.4L518.8 454.2L520.1 455L521.4 455.8L522.6 456.6L523.9 457.4L525.2 458.3L526.4 459.1L527.7 460L528.9 460.8L530.1 461.7L531.4 462.5L532.6 463.4L533.8 464.3L535.1 465.2L536.3 466.1L537.5 467L538.7 467.9L539.9 468.8L541.1 469.7L542.3 470.6L543.5 471.5L544.7 472.4L545.9 473.4L547.1 474.3L548.3 475.2L549.5 476.2L550.7 477.1L551.9 478L553.1 479L554.3 479.9L555.5 480.8L556.6 481.8L557.8 482.7L559 483.7L560.2 484.6L561.4 485.6L562.5 486.5L563.7 487.4L564.9 488.4L566.1 489.3L567.2 490.3L568.4 491.2" fill="none" stroke="#ff00ff" stroke-width="1.2" stroke-linejoin="round" clip-path="url(#clipd)"/>
<path d="M344.5 536L345 534.6L345.5 533.1L345.9 531.7L346.4 530.3L346.9 528.9L347.5 527.4L348 526L348.5 524.6L349.1 523.2L349.6 521.8L350.2 520.4L350.7 519L351.3 517.6L351.9 516.2L352.4 514.8L353 513.4L353.6 512.1L354.2 510.7L354.8 509.3L355.4 507.9L356 506.5L356.6 505.1L357.2 503.7L357.8 502.4L358.4 501L359 499.6L359.6 498.2L360.2 496.8L360.8 495.5L361.5 494.1L362.1 492.7L362.7 491.4L363.4 490L364 488.6L364.6 487.3L365.3 485.9L365.9 484.5L366.6 483.2L367.3 481.8L367.9 480.5L368.6 479.1L369.3 477.8L370 476.4L370.7 475.1L371.4 473.8L372.1 472.4L372.8 471.1L373.5 469.8L374.2 468.5L374.9 467.1L375.7 465.8L376.4 464.5L377.2 463.2L377.9 461.9L378.7 460.6L379.5 459.3L380.2 458L381 456.7L381.8 455.4L382.6 454.2L383.4 452.9L384.2 451.6L385 450.3L385.8 449L386.6 447.8L387.4 446.5L388.2 445.2L389.1 444L389.9 442.7L390.7 441.4L391.5 440.1L392.3 438.9L393.1 437.6L393.9 436.3L394.7 435.1L395.5 433.8L396.3 432.5L397.1 431.2L397.9 429.9L398.7 428.6L399.5 427.4L400.2 426.1L401 424.8L401.7 423.5L402.5 422.2L403.2 420.8L404 419.5L404.7 418.2L405.4 416.9L406.1 415.5L406.8 414.2L407.4 412.9L408.1 411.5L408.7 410.1L409.4 408.8L410 407.4L410.5 406L411.1 404.6L411.6 403.1L412.1 401.7L412.6 400.2L413.1 398.8L413.5 397.3L414 395.9L414.6 394.5L415.2 393.1L415.9 391.8L416.8 390.6L417.7 389.5L418.6 388.4L419.6 387.2L420.4 386L421.2 384.7L421.9 383.3L422.5 381.9L423 380.4L423.5 379L424 377.5L424.4 376L424.8 374.5L425.1 373.1L425.5 371.6L425.8 370.2L426.2 368.8L426.5 367.3L426.9 365.9L427.2 364.5L427.6 363L428 361.6L428.4 360.2L428.9 358.7L429.4 357.3L429.9 355.8L430.5 354.3L431.1 352.8L431.8 351.3L432.6 349.8L433.4 348.4L434.3 347.5L435.2 347.1L436.2 347.5L437.2 348.5L438.2 349.9L439.1 351.4L439.8 352.9L440.5 354.4L441.1 355.8L441.6 357.2L442.1 358.6L442.5 360L442.9 361.4L443.4 362.8L443.8 364.2L444.3 365.6L444.8 367L445.3 368.4L445.8 369.9L446.3 371.3L446.9 372.7L447.4 374.1L448 375.5L448.6 376.9L449.2 378.3L449.9 379.7L450.5 381.1L451.2 382.4L451.9 383.8L452.7 385.1L453.4 386.4L454.2 387.7L454.9 389L455.7 390.2L456.5 391.5L457.3 392.8L458.2 394L459 395.2L459.9 396.5L460.7 397.7L461.6 398.9L462.5 400.1L463.4 401.4L464.3 402.6L465.2 403.8L466.1 405L467 406.2L467.9 407.4L468.8 408.6L469.8 409.8L470.7 411L471.6 412.2L472.6 413.4L473.5 414.6L474.5 415.8L475.4 417L476.4 418.1L477.4 419.2L478.5 420.3L479.5 421.4L480.6 422.5L481.7 423.5L482.8 424.5L483.9 425.5L485 426.5L486.2 427.5L487.3 428.4L488.5 429.3L489.7 430.3L490.9 431.2L492.1 432L493.3 432.9L494.6 433.8L495.8 434.6L497 435.5L498.3 436.3L499.6 437.1L500.8 438L502.1 438.8L503.4 439.6L504.7 440.4L505.9 441.2L507.2 442L508.5 442.8L509.8 443.6L511.1 444.4L512.4 445.2L513.6 446L514.9 446.8L516.2 447.6L517.5 448.4L518.7 449.3L520 450.1L521.3 450.9L522.5 451.8L523.8 452.6L525 453.5L526.2 454.3L527.5 455.2L528.7 456.1L529.9 456.9L531.1 457.8L532.4 458.7L533.6 459.6L534.8 460.5L536 461.4L537.2 462.3L538.4 463.3L539.5 464.2L540.7 465.1L541.9 466L543.1 467L544.3 467.9L545.4 468.9L546.6 469.8L547.8 470.8L548.9 471.7L550.1 472.7L551.2 473.6L552.4 474.6L553.5 475.6L554.7 476.5L555.8 477.5L557 478.5L558.1 479.5L559.3 480.5L560.4 481.4L561.6 482.4L562.7 483.4L563.8 484.4L565 485.4L566.1 486.4L567.3 487.4L568.4 488.4" fill="none" stroke="#000000" stroke-width="1.6" stroke-linejoin="round" clip-path="url(#clipd)"/>
<path d="M428.8 430L428.8 428.6L428.8 427.2L428.9 425.8L428.9 424.3L428.9 422.8L428.9 421.3L429 419.8L429 418.3L429 416.7L429.1 415.2L429.1 413.6L429.2 412L429.2 410.4L429.2 408.8L429.3 407.2L429.3 405.7L429.4 404.1L429.5 402.5L429.5 400.9L429.6 399.3L429.6 397.8L429.7 396.2L429.8 394.7L429.9 393.1L429.9 391.6L430 390.1L430.1 388.6L430.2 387.2L430.3 385.8L430.4 384.4L430.5 383L430.6 381.6L430.7 380.3L430.8 379L431 377.7L431.1 376.4L431.2 375L431.4 373.7L431.5 372.3L431.7 370.9L431.8 369.4L432 367.8L432.1 366.2L432.3 364.5L432.5 362.7L432.7 360.8L432.9 358.8L433.1 356.7L433.3 354.6L433.6 352.6L433.9 350.8L434.2 349.2L434.5 348.1L435 347.4L435.4 347.3L435.9 347.9L436.5 349L437.1 350.4L437.7 352.2L438.2 354.1L438.8 356L439.3 357.8L439.7 359.6L440.1 361.2L440.5 362.8L440.8 364.3L441.1 365.7L441.4 367.1L441.6 368.5L441.9 369.8L442.1 371.2L442.3 372.5L442.6 373.9L442.8 375.3L443.1 376.7L443.4 378.2L443.6 379.6L443.9 381.1L444.2 382.6L444.4 384.2L444.7 385.7L444.9 387.2L445.2 388.8L445.4 390.3L445.6 391.9L445.8 393.4L446 394.9L446.1 396.5L446.3 398L446.4 399.5L446.5 401L446.6 402.5L446.8 404L446.8 405.5L446.9 407L447 408.6L447.1 410.1L447.2 411.6L447.2 413.1L447.3 414.6L447.4 416.1L447.5 417.6L447.5 419.1L447.6 420.6L447.7 422.1L447.7 423.7L447.8 425.2L447.9 426.7L447.9 428.2L448 429.7L448 431.3L448.1 432.8L448.1 434.3L448.2 435.8L448.2 437.3L448.2 438.8L448.3 440.4L448.3 441.9L448.3 443.4L448.4 444.9L448.4 446.4L448.4 447.9L448.5 449.5L448.5 451L448.5 452.5L448.6 454L448.6 455.5L448.6 457L448.7 458.6L448.7 460.1L448.8 461.6" fill="none" stroke="#0000ff" stroke-width="1.9" stroke-linejoin="round" stroke-dasharray="8.5 1.8 3.2 1.8"/>
<path class="tk" d="M91.9 253v-4.3M91.9 10.2v4.3M113.7 253v-4.3M113.7 10.2v4.3M129.2 253v-4.3M129.2 10.2v4.3M141.2 253v-8.8M141.2 10.2v8.8M151.1 253v-4.3M151.1 10.2v4.3M159.4 253v-4.3M159.4 10.2v4.3M166.6 253v-4.3M166.6 10.2v4.3M172.9 253v-4.3M172.9 10.2v4.3M178.6 253v-8.8M178.6 10.2v8.8M216 253v-4.3M216 10.2v4.3M237.8 253v-4.3M237.8 10.2v4.3M253.3 253v-4.3M253.3 10.2v4.3M265.3 253v-8.8M265.3 10.2v8.8M275.2 253v-4.3M275.2 10.2v4.3M283.5 253v-4.3M283.5 10.2v4.3M290.7 253v-4.3M290.7 10.2v4.3M297 253v-4.3M297 10.2v4.3M54.5 245.5h4.3M302.7 245.5h-4.3M54.5 241.1h4.3M302.7 241.1h-4.3M54.5 237.9h4.3M302.7 237.9h-4.3M54.5 235.5h4.3M302.7 235.5h-4.3M54.5 233.5h4.3M302.7 233.5h-4.3M54.5 231.8h4.3M302.7 231.8h-4.3M54.5 230.4h4.3M302.7 230.4h-4.3M54.5 229.1h4.3M302.7 229.1h-4.3M54.5 228h8.8M302.7 228h-8.8M54.5 220.4h4.3M302.7 220.4h-4.3M54.5 216h4.3M302.7 216h-4.3M54.5 212.9h4.3M302.7 212.9h-4.3M54.5 210.5h4.3M302.7 210.5h-4.3M54.5 208.5h4.3M302.7 208.5h-4.3M54.5 206.8h4.3M302.7 206.8h-4.3M54.5 205.4h4.3M302.7 205.4h-4.3M54.5 204.1h4.3M302.7 204.1h-4.3M54.5 202.9h8.8M302.7 202.9h-8.8M54.5 195.4h4.3M302.7 195.4h-4.3M54.5 191h4.3M302.7 191h-4.3M54.5 187.9h4.3M302.7 187.9h-4.3M54.5 185.4h4.3M302.7 185.4h-4.3M54.5 183.5h4.3M302.7 183.5h-4.3M54.5 181.8h4.3M302.7 181.8h-4.3M54.5 180.3h4.3M302.7 180.3h-4.3M54.5 179h4.3M302.7 179h-4.3M54.5 177.9h8.8M302.7 177.9h-8.8M54.5 170.4h4.3M302.7 170.4h-4.3M54.5 166h4.3M302.7 166h-4.3M54.5 162.8h4.3M302.7 162.8h-4.3M54.5 160.4h4.3M302.7 160.4h-4.3M54.5 158.4h4.3M302.7 158.4h-4.3M54.5 156.7h4.3M302.7 156.7h-4.3M54.5 155.3h4.3M302.7 155.3h-4.3M54.5 154h4.3M302.7 154h-4.3M54.5 152.9h8.8M302.7 152.9h-8.8M54.5 145.3h4.3M302.7 145.3h-4.3M54.5 140.9h4.3M302.7 140.9h-4.3M54.5 137.8h4.3M302.7 137.8h-4.3M54.5 135.4h4.3M302.7 135.4h-4.3M54.5 133.4h4.3M302.7 133.4h-4.3M54.5 131.7h4.3M302.7 131.7h-4.3M54.5 130.3h4.3M302.7 130.3h-4.3M54.5 129h4.3M302.7 129h-4.3M54.5 127.8h8.8M302.7 127.8h-8.8M54.5 120.3h4.3M302.7 120.3h-4.3M54.5 115.9h4.3M302.7 115.9h-4.3M54.5 112.8h4.3M302.7 112.8h-4.3M54.5 110.3h4.3M302.7 110.3h-4.3M54.5 108.4h4.3M302.7 108.4h-4.3M54.5 106.7h4.3M302.7 106.7h-4.3M54.5 105.2h4.3M302.7 105.2h-4.3M54.5 103.9h4.3M302.7 103.9h-4.3M54.5 102.8h8.8M302.7 102.8h-8.8M54.5 95.3h4.3M302.7 95.3h-4.3M54.5 90.9h4.3M302.7 90.9h-4.3M54.5 87.7h4.3M302.7 87.7h-4.3M54.5 85.3h4.3M302.7 85.3h-4.3M54.5 83.3h4.3M302.7 83.3h-4.3M54.5 81.6h4.3M302.7 81.6h-4.3M54.5 80.2h4.3M302.7 80.2h-4.3M54.5 78.9h4.3M302.7 78.9h-4.3M54.5 77.8h8.8M302.7 77.8h-8.8M54.5 70.2h4.3M302.7 70.2h-4.3M54.5 65.8h4.3M302.7 65.8h-4.3M54.5 62.7h4.3M302.7 62.7h-4.3M54.5 60.3h4.3M302.7 60.3h-4.3M54.5 58.3h4.3M302.7 58.3h-4.3M54.5 56.6h4.3M302.7 56.6h-4.3M54.5 55.2h4.3M302.7 55.2h-4.3M54.5 53.9h4.3M302.7 53.9h-4.3M54.5 52.7h8.8M302.7 52.7h-8.8M54.5 45.2h4.3M302.7 45.2h-4.3M54.5 40.8h4.3M302.7 40.8h-4.3M54.5 37.7h4.3M302.7 37.7h-4.3M54.5 35.2h4.3M302.7 35.2h-4.3M54.5 33.3h4.3M302.7 33.3h-4.3M54.5 31.6h4.3M302.7 31.6h-4.3M54.5 30.1h4.3M302.7 30.1h-4.3M54.5 28.8h4.3M302.7 28.8h-4.3M54.5 27.7h8.8M302.7 27.7h-8.8M54.5 20.2h4.3M302.7 20.2h-4.3M54.5 15.8h4.3M302.7 15.8h-4.3M54.5 12.6h4.3M302.7 12.6h-4.3"/>
<rect class="fr" x="54.5" y="10.2" width="248.2" height="242.8"/>
<path class="tk" d="M357.8 253v-4.3M357.8 10.2v4.3M379.6 253v-4.3M379.6 10.2v4.3M395.1 253v-4.3M395.1 10.2v4.3M407.1 253v-8.8M407.1 10.2v8.8M416.9 253v-4.3M416.9 10.2v4.3M425.2 253v-4.3M425.2 10.2v4.3M432.4 253v-4.3M432.4 10.2v4.3M438.7 253v-4.3M438.7 10.2v4.3M444.4 253v-8.8M444.4 10.2v8.8M481.7 253v-4.3M481.7 10.2v4.3M503.5 253v-4.3M503.5 10.2v4.3M519 253v-4.3M519 10.2v4.3M531 253v-8.8M531 10.2v8.8M540.8 253v-4.3M540.8 10.2v4.3M549.1 253v-4.3M549.1 10.2v4.3M556.3 253v-4.3M556.3 10.2v4.3M562.6 253v-4.3M562.6 10.2v4.3M320.5 245.5h4.3M568.3 245.5h-4.3M320.5 241.1h4.3M568.3 241.1h-4.3M320.5 237.9h4.3M568.3 237.9h-4.3M320.5 235.5h4.3M568.3 235.5h-4.3M320.5 233.5h4.3M568.3 233.5h-4.3M320.5 231.8h4.3M568.3 231.8h-4.3M320.5 230.4h4.3M568.3 230.4h-4.3M320.5 229.1h4.3M568.3 229.1h-4.3M320.5 228h8.8M568.3 228h-8.8M320.5 220.4h4.3M568.3 220.4h-4.3M320.5 216h4.3M568.3 216h-4.3M320.5 212.9h4.3M568.3 212.9h-4.3M320.5 210.5h4.3M568.3 210.5h-4.3M320.5 208.5h4.3M568.3 208.5h-4.3M320.5 206.8h4.3M568.3 206.8h-4.3M320.5 205.4h4.3M568.3 205.4h-4.3M320.5 204.1h4.3M568.3 204.1h-4.3M320.5 202.9h8.8M568.3 202.9h-8.8M320.5 195.4h4.3M568.3 195.4h-4.3M320.5 191h4.3M568.3 191h-4.3M320.5 187.9h4.3M568.3 187.9h-4.3M320.5 185.4h4.3M568.3 185.4h-4.3M320.5 183.5h4.3M568.3 183.5h-4.3M320.5 181.8h4.3M568.3 181.8h-4.3M320.5 180.3h4.3M568.3 180.3h-4.3M320.5 179h4.3M568.3 179h-4.3M320.5 177.9h8.8M568.3 177.9h-8.8M320.5 170.4h4.3M568.3 170.4h-4.3M320.5 166h4.3M568.3 166h-4.3M320.5 162.8h4.3M568.3 162.8h-4.3M320.5 160.4h4.3M568.3 160.4h-4.3M320.5 158.4h4.3M568.3 158.4h-4.3M320.5 156.7h4.3M568.3 156.7h-4.3M320.5 155.3h4.3M568.3 155.3h-4.3M320.5 154h4.3M568.3 154h-4.3M320.5 152.9h8.8M568.3 152.9h-8.8M320.5 145.3h4.3M568.3 145.3h-4.3M320.5 140.9h4.3M568.3 140.9h-4.3M320.5 137.8h4.3M568.3 137.8h-4.3M320.5 135.4h4.3M568.3 135.4h-4.3M320.5 133.4h4.3M568.3 133.4h-4.3M320.5 131.7h4.3M568.3 131.7h-4.3M320.5 130.3h4.3M568.3 130.3h-4.3M320.5 129h4.3M568.3 129h-4.3M320.5 127.8h8.8M568.3 127.8h-8.8M320.5 120.3h4.3M568.3 120.3h-4.3M320.5 115.9h4.3M568.3 115.9h-4.3M320.5 112.8h4.3M568.3 112.8h-4.3M320.5 110.3h4.3M568.3 110.3h-4.3M320.5 108.4h4.3M568.3 108.4h-4.3M320.5 106.7h4.3M568.3 106.7h-4.3M320.5 105.2h4.3M568.3 105.2h-4.3M320.5 103.9h4.3M568.3 103.9h-4.3M320.5 102.8h8.8M568.3 102.8h-8.8M320.5 95.3h4.3M568.3 95.3h-4.3M320.5 90.9h4.3M568.3 90.9h-4.3M320.5 87.7h4.3M568.3 87.7h-4.3M320.5 85.3h4.3M568.3 85.3h-4.3M320.5 83.3h4.3M568.3 83.3h-4.3M320.5 81.6h4.3M568.3 81.6h-4.3M320.5 80.2h4.3M568.3 80.2h-4.3M320.5 78.9h4.3M568.3 78.9h-4.3M320.5 77.8h8.8M568.3 77.8h-8.8M320.5 70.2h4.3M568.3 70.2h-4.3M320.5 65.8h4.3M568.3 65.8h-4.3M320.5 62.7h4.3M568.3 62.7h-4.3M320.5 60.3h4.3M568.3 60.3h-4.3M320.5 58.3h4.3M568.3 58.3h-4.3M320.5 56.6h4.3M568.3 56.6h-4.3M320.5 55.2h4.3M568.3 55.2h-4.3M320.5 53.9h4.3M568.3 53.9h-4.3M320.5 52.7h8.8M568.3 52.7h-8.8M320.5 45.2h4.3M568.3 45.2h-4.3M320.5 40.8h4.3M568.3 40.8h-4.3M320.5 37.7h4.3M568.3 37.7h-4.3M320.5 35.2h4.3M568.3 35.2h-4.3M320.5 33.3h4.3M568.3 33.3h-4.3M320.5 31.6h4.3M568.3 31.6h-4.3M320.5 30.1h4.3M568.3 30.1h-4.3M320.5 28.8h4.3M568.3 28.8h-4.3M320.5 27.7h8.8M568.3 27.7h-8.8M320.5 20.2h4.3M568.3 20.2h-4.3M320.5 15.8h4.3M568.3 15.8h-4.3M320.5 12.6h4.3M568.3 12.6h-4.3"/>
<rect class="fr" x="320.5" y="10.2" width="247.8" height="242.8"/>
<path class="tk" d="M69.6 532.9v-4.3M69.6 297.7v4.3M82.4 532.9v-4.3M82.4 297.7v4.3M93.4 532.9v-4.3M93.4 297.7v4.3M103.2 532.9v-4.3M103.2 297.7v4.3M111.9 532.9v-8.8M111.9 297.7v8.8M169.4 532.9v-4.3M169.4 297.7v4.3M202.9 532.9v-4.3M202.9 297.7v4.3M226.8 532.9v-4.3M226.8 297.7v4.3M245.3 532.9v-8.8M245.3 297.7v8.8M260.4 532.9v-4.3M260.4 297.7v4.3M273.1 532.9v-4.3M273.1 297.7v4.3M284.2 532.9v-4.3M284.2 297.7v4.3M294 532.9v-4.3M294 297.7v4.3M54.5 518.7h4.3M302.7 518.7h-4.3M54.5 510.5h4.3M302.7 510.5h-4.3M54.5 504.6h4.3M302.7 504.6h-4.3M54.5 500h4.3M302.7 500h-4.3M54.5 496.3h4.3M302.7 496.3h-4.3M54.5 493.1h4.3M302.7 493.1h-4.3M54.5 490.4h4.3M302.7 490.4h-4.3M54.5 488h4.3M302.7 488h-4.3M54.5 485.9h8.8M302.7 485.9h-8.8M54.5 471.7h4.3M302.7 471.7h-4.3M54.5 463.4h4.3M302.7 463.4h-4.3M54.5 457.5h4.3M302.7 457.5h-4.3M54.5 453h4.3M302.7 453h-4.3M54.5 449.3h4.3M302.7 449.3h-4.3M54.5 446.1h4.3M302.7 446.1h-4.3M54.5 443.4h4.3M302.7 443.4h-4.3M54.5 441h4.3M302.7 441h-4.3M54.5 438.8h8.8M302.7 438.8h-8.8M54.5 424.7h4.3M302.7 424.7h-4.3M54.5 416.4h4.3M302.7 416.4h-4.3M54.5 410.5h4.3M302.7 410.5h-4.3M54.5 405.9h4.3M302.7 405.9h-4.3M54.5 402.2h4.3M302.7 402.2h-4.3M54.5 399.1h4.3M302.7 399.1h-4.3M54.5 396.3h4.3M302.7 396.3h-4.3M54.5 393.9h4.3M302.7 393.9h-4.3M54.5 391.8h8.8M302.7 391.8h-8.8M54.5 377.6h4.3M302.7 377.6h-4.3M54.5 369.3h4.3M302.7 369.3h-4.3M54.5 363.5h4.3M302.7 363.5h-4.3M54.5 358.9h4.3M302.7 358.9h-4.3M54.5 355.2h4.3M302.7 355.2h-4.3M54.5 352h4.3M302.7 352h-4.3M54.5 349.3h4.3M302.7 349.3h-4.3M54.5 346.9h4.3M302.7 346.9h-4.3M54.5 344.7h8.8M302.7 344.7h-8.8M54.5 330.6h4.3M302.7 330.6h-4.3M54.5 322.3h4.3M302.7 322.3h-4.3M54.5 316.4h4.3M302.7 316.4h-4.3M54.5 311.9h4.3M302.7 311.9h-4.3M54.5 308.1h4.3M302.7 308.1h-4.3M54.5 305h4.3M302.7 305h-4.3M54.5 302.3h4.3M302.7 302.3h-4.3M54.5 299.9h4.3M302.7 299.9h-4.3"/>
<rect class="fr" x="54.5" y="297.7" width="248.2" height="235.2"/>
<path class="tk" d="M335.6 532.9v-4.3M335.6 297.7v4.3M348.3 532.9v-4.3M348.3 297.7v4.3M359.4 532.9v-4.3M359.4 297.7v4.3M369.1 532.9v-4.3M369.1 297.7v4.3M377.8 532.9v-8.8M377.8 297.7v8.8M435.2 532.9v-4.3M435.2 297.7v4.3M468.7 532.9v-4.3M468.7 297.7v4.3M492.5 532.9v-4.3M492.5 297.7v4.3M511 532.9v-8.8M511 297.7v8.8M526 532.9v-4.3M526 297.7v4.3M538.8 532.9v-4.3M538.8 297.7v4.3M549.8 532.9v-4.3M549.8 297.7v4.3M559.6 532.9v-4.3M559.6 297.7v4.3M320.5 518.7h4.3M568.3 518.7h-4.3M320.5 510.5h4.3M568.3 510.5h-4.3M320.5 504.6h4.3M568.3 504.6h-4.3M320.5 500h4.3M568.3 500h-4.3M320.5 496.3h4.3M568.3 496.3h-4.3M320.5 493.1h4.3M568.3 493.1h-4.3M320.5 490.4h4.3M568.3 490.4h-4.3M320.5 488h4.3M568.3 488h-4.3M320.5 485.9h8.8M568.3 485.9h-8.8M320.5 471.7h4.3M568.3 471.7h-4.3M320.5 463.4h4.3M568.3 463.4h-4.3M320.5 457.5h4.3M568.3 457.5h-4.3M320.5 453h4.3M568.3 453h-4.3M320.5 449.3h4.3M568.3 449.3h-4.3M320.5 446.1h4.3M568.3 446.1h-4.3M320.5 443.4h4.3M568.3 443.4h-4.3M320.5 441h4.3M568.3 441h-4.3M320.5 438.8h8.8M568.3 438.8h-8.8M320.5 424.7h4.3M568.3 424.7h-4.3M320.5 416.4h4.3M568.3 416.4h-4.3M320.5 410.5h4.3M568.3 410.5h-4.3M320.5 405.9h4.3M568.3 405.9h-4.3M320.5 402.2h4.3M568.3 402.2h-4.3M320.5 399.1h4.3M568.3 399.1h-4.3M320.5 396.3h4.3M568.3 396.3h-4.3M320.5 393.9h4.3M568.3 393.9h-4.3M320.5 391.8h8.8M568.3 391.8h-8.8M320.5 377.6h4.3M568.3 377.6h-4.3M320.5 369.3h4.3M568.3 369.3h-4.3M320.5 363.5h4.3M568.3 363.5h-4.3M320.5 358.9h4.3M568.3 358.9h-4.3M320.5 355.2h4.3M568.3 355.2h-4.3M320.5 352h4.3M568.3 352h-4.3M320.5 349.3h4.3M568.3 349.3h-4.3M320.5 346.9h4.3M568.3 346.9h-4.3M320.5 344.7h8.8M568.3 344.7h-8.8M320.5 330.6h4.3M568.3 330.6h-4.3M320.5 322.3h4.3M568.3 322.3h-4.3M320.5 316.4h4.3M568.3 316.4h-4.3M320.5 311.9h4.3M568.3 311.9h-4.3M320.5 308.1h4.3M568.3 308.1h-4.3M320.5 305h4.3M568.3 305h-4.3M320.5 302.3h4.3M568.3 302.3h-4.3M320.5 299.9h4.3M568.3 299.9h-4.3"/>
<rect class="fr" x="320.5" y="297.7" width="247.8" height="235.2"/>
<text x="34.1" y="32.5" font-family="'DejaVu Serif','Liberation Serif',serif" font-size="12.6" stroke="#000" stroke-width="0.3" textLength="16.9" lengthAdjust="spacingAndGlyphs">10</text>
<text x="44.4" y="57.5" font-family="'DejaVu Serif','Liberation Serif',serif" font-size="12.6" stroke="#000" stroke-width="0.3" textLength="8.5" lengthAdjust="spacingAndGlyphs">1</text>
<text x="42.1" y="82.6" font-family="'DejaVu Serif','Liberation Serif',serif" font-size="12.6" stroke="#000" stroke-width="0.3" textLength="10.4" lengthAdjust="spacingAndGlyphs">.1</text>
<text x="31" y="107.6" font-family="'DejaVu Serif','Liberation Serif',serif" font-size="12.6" stroke="#000" stroke-width="0.3" textLength="22" lengthAdjust="spacingAndGlyphs">.01</text>
<text x="21.1" y="157.7" font-family="'DejaVu Serif','Liberation Serif',serif" font-size="12.6" stroke="#000" stroke-width="0.3" textLength="16.6" lengthAdjust="spacingAndGlyphs">10</text>
<text x="36.8" y="154.7" font-family="'DejaVu Serif','Liberation Serif',serif" font-size="8.6" stroke="#000" stroke-width="0.3" textLength="13.7" lengthAdjust="spacingAndGlyphs">−4</text>
<text x="21.1" y="207.7" font-family="'DejaVu Serif','Liberation Serif',serif" font-size="12.6" stroke="#000" stroke-width="0.3" textLength="16.6" lengthAdjust="spacingAndGlyphs">10</text>
<text x="36.8" y="204.7" font-family="'DejaVu Serif','Liberation Serif',serif" font-size="8.6" stroke="#000" stroke-width="0.3" textLength="13.9" lengthAdjust="spacingAndGlyphs">−6</text>
<text x="21.1" y="257.8" font-family="'DejaVu Serif','Liberation Serif',serif" font-size="12.6" stroke="#000" stroke-width="0.3" textLength="16.6" lengthAdjust="spacingAndGlyphs">10</text>
<text x="36.8" y="254.8" font-family="'DejaVu Serif','Liberation Serif',serif" font-size="8.6" stroke="#000" stroke-width="0.3" textLength="13.9" lengthAdjust="spacingAndGlyphs">−8</text>
<text x="26.3" y="302.5" font-family="'DejaVu Serif','Liberation Serif',serif" font-size="12.6" stroke="#000" stroke-width="0.3" textLength="17.3" lengthAdjust="spacingAndGlyphs">10</text>
<text x="42.3" y="298.9" font-family="'DejaVu Serif','Liberation Serif',serif" font-size="8.6" stroke="#000" stroke-width="0.3" textLength="11.7" lengthAdjust="spacingAndGlyphs">11</text>
<text x="26.3" y="349.5" font-family="'DejaVu Serif','Liberation Serif',serif" font-size="12.6" stroke="#000" stroke-width="0.3" textLength="17.3" lengthAdjust="spacingAndGlyphs">10</text>
<text x="42.2" y="345.9" font-family="'DejaVu Serif','Liberation Serif',serif" font-size="8.6" stroke="#000" stroke-width="0.3" textLength="12.8" lengthAdjust="spacingAndGlyphs">10</text>
<text x="28.3" y="396.6" font-family="'DejaVu Serif','Liberation Serif',serif" font-size="12.6" stroke="#000" stroke-width="0.3" textLength="16.6" lengthAdjust="spacingAndGlyphs">10</text>
<text x="44.3" y="393" font-family="'DejaVu Serif','Liberation Serif',serif" font-size="8.6" stroke="#000" stroke-width="0.3" textLength="7" lengthAdjust="spacingAndGlyphs">9</text>
<text x="28.3" y="443.6" font-family="'DejaVu Serif','Liberation Serif',serif" font-size="12.6" stroke="#000" stroke-width="0.3" textLength="16.6" lengthAdjust="spacingAndGlyphs">10</text>
<text x="43.9" y="440" font-family="'DejaVu Serif','Liberation Serif',serif" font-size="8.6" stroke="#000" stroke-width="0.3" textLength="6.8" lengthAdjust="spacingAndGlyphs">8</text>
<text x="28.3" y="490.7" font-family="'DejaVu Serif','Liberation Serif',serif" font-size="12.6" stroke="#000" stroke-width="0.3" textLength="16.6" lengthAdjust="spacingAndGlyphs">10</text>
<text x="43.7" y="487.1" font-family="'DejaVu Serif','Liberation Serif',serif" font-size="8.6" stroke="#000" stroke-width="0.3" textLength="7.1" lengthAdjust="spacingAndGlyphs">7</text>
<text x="28.3" y="537.7" font-family="'DejaVu Serif','Liberation Serif',serif" font-size="12.6" stroke="#000" stroke-width="0.3" textLength="16.6" lengthAdjust="spacingAndGlyphs">10</text>
<text x="43.9" y="534.1" font-family="'DejaVu Serif','Liberation Serif',serif" font-size="8.6" stroke="#000" stroke-width="0.3" textLength="6.7" lengthAdjust="spacingAndGlyphs">6</text>
<text x="45.8" y="267.9" font-family="'DejaVu Serif','Liberation Serif',serif" font-size="12.6" stroke="#000" stroke-width="0.3" textLength="16.9" lengthAdjust="spacingAndGlyphs">10</text>
<text x="105" y="267.9" font-family="'DejaVu Serif','Liberation Serif',serif" font-size="12.6" stroke="#000" stroke-width="0.3" textLength="17.1" lengthAdjust="spacingAndGlyphs">30</text>
<text x="165.7" y="267.9" font-family="'DejaVu Serif','Liberation Serif',serif" font-size="12.6" stroke="#000" stroke-width="0.3" textLength="26.2" lengthAdjust="spacingAndGlyphs">100</text>
<text x="225" y="267.9" font-family="'DejaVu Serif','Liberation Serif',serif" font-size="12.6" stroke="#000" stroke-width="0.3" textLength="26" lengthAdjust="spacingAndGlyphs">300</text>
<text x="290.5" y="267.9" font-family="'DejaVu Serif','Liberation Serif',serif" font-size="12.6" stroke="#000" stroke-width="0.3" textLength="16.3" lengthAdjust="spacingAndGlyphs">10</text>
<text x="306.3" y="264.3" font-family="'DejaVu Serif','Liberation Serif',serif" font-size="8.6" stroke="#000" stroke-width="0.3" textLength="6.8" lengthAdjust="spacingAndGlyphs">3</text>
<text x="154.8" y="284.4" font-family="'DejaVu Serif','Liberation Serif',serif" font-size="14.3" stroke="#000" stroke-width="0.3" textLength="8.7" lengthAdjust="spacingAndGlyphs">T</text>
<text x="178.8" y="284.4" font-family="'DejaVu Serif','Liberation Serif',serif" font-size="14.3" stroke="#000" stroke-width="0.3" textLength="23" lengthAdjust="spacingAndGlyphs">(K)</text>
<text x="314.5" y="267.9" font-family="'DejaVu Serif','Liberation Serif',serif" font-size="12.6" stroke="#000" stroke-width="0.3" textLength="16.8" lengthAdjust="spacingAndGlyphs">10</text>
<text x="371" y="267.9" font-family="'DejaVu Serif','Liberation Serif',serif" font-size="12.6" stroke="#000" stroke-width="0.3" textLength="17.1" lengthAdjust="spacingAndGlyphs">30</text>
<text x="431.7" y="267.9" font-family="'DejaVu Serif','Liberation Serif',serif" font-size="12.6" stroke="#000" stroke-width="0.3" textLength="26.2" lengthAdjust="spacingAndGlyphs">100</text>
<text x="491" y="267.9" font-family="'DejaVu Serif','Liberation Serif',serif" font-size="12.6" stroke="#000" stroke-width="0.3" textLength="26" lengthAdjust="spacingAndGlyphs">300</text>
<text x="556.5" y="267.9" font-family="'DejaVu Serif','Liberation Serif',serif" font-size="12.6" stroke="#000" stroke-width="0.3" textLength="16.3" lengthAdjust="spacingAndGlyphs">10</text>
<text x="572.3" y="264.3" font-family="'DejaVu Serif','Liberation Serif',serif" font-size="8.6" stroke="#000" stroke-width="0.3" textLength="6.8" lengthAdjust="spacingAndGlyphs">3</text>
<text x="420.8" y="284.4" font-family="'DejaVu Serif','Liberation Serif',serif" font-size="14.3" stroke="#000" stroke-width="0.3" textLength="8.7" lengthAdjust="spacingAndGlyphs">T</text>
<text x="444.8" y="284.4" font-family="'DejaVu Serif','Liberation Serif',serif" font-size="14.3" stroke="#000" stroke-width="0.3" textLength="23" lengthAdjust="spacingAndGlyphs">(K)</text>
<text x="49.2" y="547" font-family="'DejaVu Serif','Liberation Serif',serif" font-size="12.6" stroke="#000" stroke-width="0.3" textLength="9.6" lengthAdjust="spacingAndGlyphs">5</text>
<text x="288.5" y="547" font-family="'DejaVu Serif','Liberation Serif',serif" font-size="12.6" stroke="#000" stroke-width="0.3" textLength="24.4" lengthAdjust="spacingAndGlyphs">100</text>
<text x="103.7" y="547" font-family="'DejaVu Serif','Liberation Serif',serif" font-size="12.6" stroke="#000" stroke-width="0.3" textLength="17.1" lengthAdjust="spacingAndGlyphs">10</text>
<text x="193.6" y="547" font-family="'DejaVu Serif','Liberation Serif',serif" font-size="12.6" stroke="#000" stroke-width="0.3" textLength="17.9" lengthAdjust="spacingAndGlyphs">30</text>
<text x="154.1" y="561" font-family="'DejaVu Serif','Liberation Serif',serif" font-size="14.3" stroke="#000" stroke-width="0.3" textLength="8.7" lengthAdjust="spacingAndGlyphs">λ</text>
<text x="164" y="561" font-family="'DejaVu Serif','Liberation Serif',serif" font-size="14.3" stroke="#000" stroke-width="0.3" textLength="5.4" lengthAdjust="spacingAndGlyphs">(</text>
<text x="169.4" y="561" font-family="'DejaVu Serif','Liberation Serif',serif" font-size="14.3" font-style="italic" stroke="#000" stroke-width="0.3" textLength="12" lengthAdjust="spacingAndGlyphs">μ</text>
<text x="181.7" y="561" font-family="'DejaVu Serif','Liberation Serif',serif" font-size="14.3" stroke="#000" stroke-width="0.3" textLength="14.6" lengthAdjust="spacingAndGlyphs">m</text>
<text x="196.6" y="561" font-family="'DejaVu Serif','Liberation Serif',serif" font-size="14.3" stroke="#000" stroke-width="0.3" textLength="6.2" lengthAdjust="spacingAndGlyphs">)</text>
<text x="315.5" y="547" font-family="'DejaVu Serif','Liberation Serif',serif" font-size="12.6" stroke="#000" stroke-width="0.3" textLength="9.8" lengthAdjust="spacingAndGlyphs">5</text>
<text x="554.3" y="547" font-family="'DejaVu Serif','Liberation Serif',serif" font-size="12.6" stroke="#000" stroke-width="0.3">100</text>
<text x="369.7" y="547" font-family="'DejaVu Serif','Liberation Serif',serif" font-size="12.6" stroke="#000" stroke-width="0.3" textLength="17.1" lengthAdjust="spacingAndGlyphs">10</text>
<text x="459.6" y="547" font-family="'DejaVu Serif','Liberation Serif',serif" font-size="12.6" stroke="#000" stroke-width="0.3" textLength="17.9" lengthAdjust="spacingAndGlyphs">30</text>
<text x="420.1" y="561" font-family="'DejaVu Serif','Liberation Serif',serif" font-size="14.3" stroke="#000" stroke-width="0.3" textLength="8.7" lengthAdjust="spacingAndGlyphs">λ</text>
<text x="430" y="561" font-family="'DejaVu Serif','Liberation Serif',serif" font-size="14.3" stroke="#000" stroke-width="0.3" textLength="5.4" lengthAdjust="spacingAndGlyphs">(</text>
<text x="435.4" y="561" font-family="'DejaVu Serif','Liberation Serif',serif" font-size="14.3" font-style="italic" stroke="#000" stroke-width="0.3" textLength="12" lengthAdjust="spacingAndGlyphs">μ</text>
<text x="447.7" y="561" font-family="'DejaVu Serif','Liberation Serif',serif" font-size="14.3" stroke="#000" stroke-width="0.3" textLength="14.6" lengthAdjust="spacingAndGlyphs">m</text>
<text x="462.6" y="561" font-family="'DejaVu Serif','Liberation Serif',serif" font-size="14.3" stroke="#000" stroke-width="0.3" textLength="6.2" lengthAdjust="spacingAndGlyphs">)</text>
<text transform="translate(22.5 165.5) rotate(-90)" x="-0.73" y="0" font-family="'DejaVu Serif','Liberation Serif',serif" font-size="14.5" stroke="#000" stroke-width="0.08" textLength="63.8" lengthAdjust="spacingAndGlyphs">dP/dlnT</text>
<text transform="translate(24.7 476.6) rotate(-90)" x="1.5" y="0" font-family="'DejaVu Serif','Liberation Serif',serif" font-size="15.2" stroke="#000" stroke-width="0.08">j</text>
<text transform="translate(28.6 471.8) rotate(-90)" x="-0.42" y="0" font-family="'DejaVu Serif','Liberation Serif',serif" font-size="9.5" stroke="#000" stroke-width="0.08" textLength="6.7" lengthAdjust="spacingAndGlyphs">λ</text>
<text transform="translate(24.7 466.4) rotate(-90)" x="-1.4" y="0" font-family="'DejaVu Serif','Liberation Serif',serif" font-size="15.2" stroke="#000" stroke-width="0.08" textLength="115" lengthAdjust="spacingAndGlyphs">(erg/s/cm/g)</text>
<text x="274.7" y="31.3" font-family="'DejaVu Serif','Liberation Serif',serif" font-size="14.5" stroke="#000" stroke-width="0.3" textLength="9.4" lengthAdjust="spacingAndGlyphs">a</text>
<text x="541.1" y="31.2" font-family="'DejaVu Serif','Liberation Serif',serif" font-size="14.5" stroke="#000" stroke-width="0.3" textLength="8.7" lengthAdjust="spacingAndGlyphs">c</text>
<text x="280.9" y="321.4" font-family="'DejaVu Serif','Liberation Serif',serif" font-size="14.5" stroke="#000" stroke-width="0.3" textLength="9.4" lengthAdjust="spacingAndGlyphs">b</text>
<text x="546" y="321.4" font-family="'DejaVu Serif','Liberation Serif',serif" font-size="14.5" stroke="#000" stroke-width="0.3" textLength="9.9" lengthAdjust="spacingAndGlyphs">d</text>
<text x="67.2" y="203.8" font-family="'DejaVu Serif','Liberation Serif',serif" font-size="14.3" stroke="#000" stroke-width="0.3" textLength="31.4" lengthAdjust="spacingAndGlyphs">FeO:</text>
<text x="107.5" y="203.8" font-family="'DejaVu Serif','Liberation Serif',serif" font-size="14.3" stroke="#000" stroke-width="0.3" textLength="21.2" lengthAdjust="spacingAndGlyphs">HD</text>
<text x="132.2" y="203.8" font-family="'DejaVu Serif','Liberation Serif',serif" font-size="14.3" stroke="#000" stroke-width="0.3" textLength="47.3" lengthAdjust="spacingAndGlyphs">56126</text>
<text x="67.1" y="220.7" font-family="'DejaVu Serif','Liberation Serif',serif" font-size="14.3" stroke="#000" stroke-width="0.3" textLength="77.4" lengthAdjust="spacingAndGlyphs">spherical,</text>
<text x="152.9" y="220.7" font-family="'DejaVu Serif','Liberation Serif',serif" font-size="14.3" stroke="#000" stroke-width="0.3" textLength="38.9" lengthAdjust="spacingAndGlyphs">a=5Å</text>
<text x="332.6" y="31.5" font-family="'DejaVu Serif','Liberation Serif',serif" font-size="12.6" stroke="#000" stroke-width="0.3" textLength="30.9" lengthAdjust="spacingAndGlyphs">FeO:</text>
<text x="369.8" y="31.5" font-family="'DejaVu Serif','Liberation Serif',serif" font-size="12.6" stroke="#000" stroke-width="0.3" textLength="18.9" lengthAdjust="spacingAndGlyphs">HD</text>
<text x="393.1" y="31.5" font-family="'DejaVu Serif','Liberation Serif',serif" font-size="12.6" stroke="#000" stroke-width="0.3" textLength="42.7" lengthAdjust="spacingAndGlyphs">56126</text>
<text x="332.4" y="55.3" font-family="'DejaVu Serif','Liberation Serif',serif" font-size="14" stroke="#000" stroke-width="0.3" textLength="72.4" lengthAdjust="spacingAndGlyphs">spherical</text>
<text x="332.7" y="75.5" font-family="'DejaVu Serif','Liberation Serif',serif" font-size="14" stroke="#000" stroke-width="0.3" textLength="49" lengthAdjust="spacingAndGlyphs">a=20Å</text>
<text x="128.7" y="516.3" font-family="'DejaVu Serif','Liberation Serif',serif" font-size="14" stroke="#000" stroke-width="0.3">FeO:</text>
<text x="169.6" y="516.3" font-family="'DejaVu Serif','Liberation Serif',serif" font-size="14" stroke="#000" stroke-width="0.3">a=5Å</text>
<text x="409" y="516.3" font-family="'DejaVu Serif','Liberation Serif',serif" font-size="14" stroke="#000" stroke-width="0.3" textLength="33.1" lengthAdjust="spacingAndGlyphs">FeO:</text>
<text x="449.6" y="516.3" font-family="'DejaVu Serif','Liberation Serif',serif" font-size="14" stroke="#000" stroke-width="0.3" textLength="49.2" lengthAdjust="spacingAndGlyphs">a=20Å</text>
<text transform="translate(192 58) rotate(27)" x="-1.3" y="0" font-family="'Liberation Sans',sans-serif" font-size="12.6" font-style="italic" fill="#ff0000" stroke="#ff0000" stroke-width="0.12" textLength="14.2" lengthAdjust="spacingAndGlyphs">@</text>
<text transform="translate(206 66.1) rotate(27)" x="-0.4" y="0" font-family="'Liberation Sans',sans-serif" font-size="15.2" font-style="italic" fill="#ff0000" stroke="#ff0000" stroke-width="0.12" textLength="27.6" lengthAdjust="spacingAndGlyphs">1.2″</text>
<text transform="translate(179.6 96.7) rotate(27)" x="-1.3" y="0" font-family="'Liberation Sans',sans-serif" font-size="12.6" font-style="italic" fill="#ff00ff" stroke="#ff00ff" stroke-width="0.12" textLength="14.2" lengthAdjust="spacingAndGlyphs">@</text>
<text transform="translate(193.6 104.8) rotate(27)" x="0.16" y="0" font-family="'Liberation Sans',sans-serif" font-size="15.2" font-style="italic" fill="#ff00ff" stroke="#ff00ff" stroke-width="0.12" textLength="27.1" lengthAdjust="spacingAndGlyphs">2.6″</text>
<text transform="translate(409.5 219.8) rotate(-86)" x="-1.2" y="0" font-family="'Liberation Sans',sans-serif" font-size="12.6" font-style="italic" fill="#ff00ff" stroke="#ff00ff" stroke-width="0.12" textLength="13.9" lengthAdjust="spacingAndGlyphs">@</text>
<text transform="translate(412.2 204.1) rotate(-86)" x="0.15" y="0" font-family="'Liberation Sans',sans-serif" font-size="15.2" font-style="italic" fill="#ff00ff" stroke="#ff00ff" stroke-width="0.12">2.6″</text>
<text transform="translate(443.7 216.3) rotate(-86)" x="-1.2" y="0" font-family="'Liberation Sans',sans-serif" font-size="12.6" font-style="italic" fill="#ff0000" stroke="#ff0000" stroke-width="0.12" textLength="13.9" lengthAdjust="spacingAndGlyphs">@</text>
<text transform="translate(446.4 200.6) rotate(-86)" x="-0.39" y="0" font-family="'Liberation Sans',sans-serif" font-size="15.2" font-style="italic" fill="#ff0000" stroke="#ff0000" stroke-width="0.12" textLength="27" lengthAdjust="spacingAndGlyphs">1.2″</text>
<text transform="translate(69.1 364.8) rotate(4)" x="-1.2" y="0" font-family="'Liberation Sans',sans-serif" font-size="12.6" font-style="italic" fill="#ff0000" stroke="#ff0000" stroke-width="0.12" textLength="13.9" lengthAdjust="spacingAndGlyphs">@</text>
<text transform="translate(86 368) rotate(4)" x="-0.39" y="0" font-family="'Liberation Sans',sans-serif" font-size="15.2" font-style="italic" fill="#ff0000" stroke="#ff0000" stroke-width="0.12" textLength="27" lengthAdjust="spacingAndGlyphs">1.2″</text>
<text transform="translate(72.5 424) rotate(4)" x="-1.2" y="0" font-family="'Liberation Sans',sans-serif" font-size="12.6" font-style="italic" fill="#ff00ff" stroke="#ff00ff" stroke-width="0.12" textLength="13.9" lengthAdjust="spacingAndGlyphs">@</text>
<text transform="translate(89.4 427.2) rotate(4)" x="0.15" y="0" font-family="'Liberation Sans',sans-serif" font-size="15.2" font-style="italic" fill="#ff00ff" stroke="#ff00ff" stroke-width="0.12">2.6″</text>
<text transform="translate(59.6 387.6) rotate(5.5)" x="-0.84" y="0" font-family="'DejaVu Serif','Liberation Serif',serif" font-size="14.5" stroke="#000" stroke-width="0.08" textLength="86.3" lengthAdjust="spacingAndGlyphs">shell.integ.</text>
<text transform="translate(361.2 447.1) rotate(-60)" x="-1.2" y="0" font-family="'Liberation Sans',sans-serif" font-size="12.6" font-style="italic" fill="#ff0000" stroke="#ff0000" stroke-width="0.12" textLength="14.1" lengthAdjust="spacingAndGlyphs">@</text>
<text transform="translate(369.4 433.4) rotate(-60)" x="-0.39" y="0" font-family="'Liberation Sans',sans-serif" font-size="15.2" font-style="italic" fill="#ff0000" stroke="#ff0000" stroke-width="0.12" textLength="27.3" lengthAdjust="spacingAndGlyphs">1.2″</text>
<text transform="translate(392.5 499.5) rotate(-64)" x="-1.2" y="0" font-family="'Liberation Sans',sans-serif" font-size="12.6" font-style="italic" fill="#ff00ff" stroke="#ff00ff" stroke-width="0.12" textLength="13.9" lengthAdjust="spacingAndGlyphs">@</text>
<text transform="translate(399.6 485.4) rotate(-64)" x="0.15" y="0" font-family="'Liberation Sans',sans-serif" font-size="15.2" font-style="italic" fill="#ff00ff" stroke="#ff00ff" stroke-width="0.12">2.6″</text>
<text transform="translate(348.3 514.1) rotate(-62)" x="-0.86" y="0" font-family="'DejaVu Serif','Liberation Serif',serif" font-size="15" stroke="#000" stroke-width="0.08" textLength="87.7" lengthAdjust="spacingAndGlyphs">shell.integ.</text>
<text transform="translate(188.6 466.2) rotate(34)" x="-0.43" y="0" font-family="'Liberation Sans',sans-serif" font-size="14.5" font-style="italic" fill="#0000ff" stroke="#0000ff" stroke-width="0.25" textLength="30.9" lengthAdjust="spacing">obs.</text>
<text transform="translate(217.2 485.5) rotate(34)" x="-0.43" y="0" font-family="'Liberation Sans',sans-serif" font-size="14.5" font-style="italic" fill="#0000ff" stroke="#0000ff" stroke-width="0.25" textLength="58" lengthAdjust="spacing">feature</text>
<text transform="translate(455 466.6) rotate(34.5)" x="-0.43" y="0" font-family="'Liberation Sans',sans-serif" font-size="14.5" font-style="italic" fill="#0000ff" stroke="#0000ff" stroke-width="0.25" textLength="30.9" lengthAdjust="spacing">obs.</text>
<text transform="translate(483.4 486.1) rotate(34.5)" x="-0.43" y="0" font-family="'Liberation Sans',sans-serif" font-size="14.5" font-style="italic" fill="#0000ff" stroke="#0000ff" stroke-width="0.25" textLength="58" lengthAdjust="spacing">feature</text>
</svg>
</body></html>
